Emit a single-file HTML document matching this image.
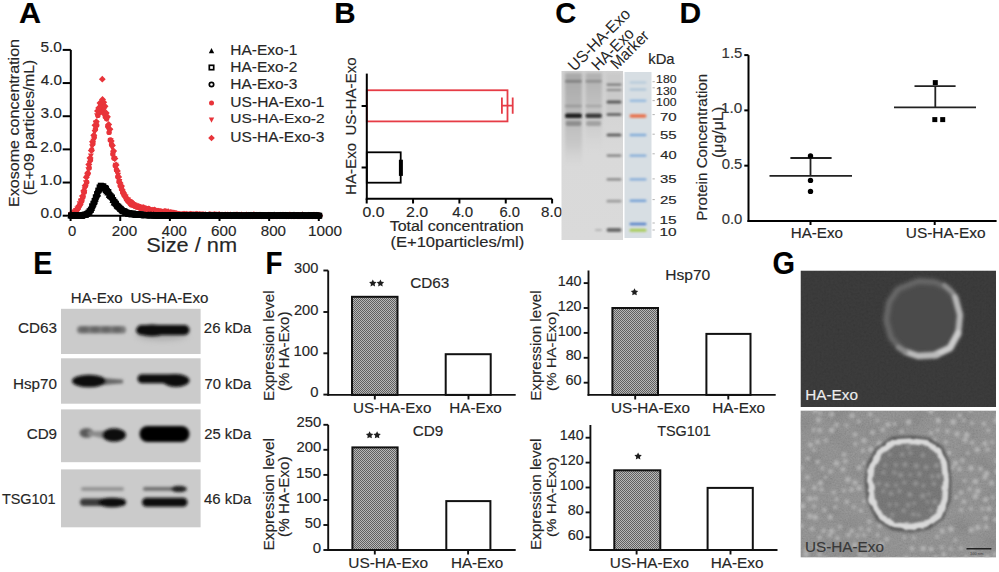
<!DOCTYPE html>
<html><head><meta charset="utf-8"><style>
html,body{margin:0;padding:0;background:#fff;}
body{width:999px;height:572px;overflow:hidden;}
svg{display:block;font-family:"Liberation Sans",sans-serif;}
text{stroke-width:0.15px;}
</style></head><body>
<svg width="999" height="572" viewBox="0 0 999 572">
<defs><filter id="gb" filterUnits="userSpaceOnUse" x="0" y="0" width="999" height="572"><feGaussianBlur stdDeviation="0.8"/></filter><filter id="gb2" filterUnits="userSpaceOnUse" x="0" y="0" width="999" height="572"><feGaussianBlur stdDeviation="1.6"/></filter><linearGradient id="gelbg" x1="0" y1="0" x2="0" y2="1"><stop offset="0" stop-color="#d0d0d0"/><stop offset="0.5" stop-color="#d9d9d9"/><stop offset="1" stop-color="#dadada"/></linearGradient><linearGradient id="lane1" x1="0" y1="0" x2="0" y2="1"><stop offset="0" stop-color="#a8a8a8"/><stop offset="0.3" stop-color="#b4b4b4"/><stop offset="0.5" stop-color="#bcbcbc"/><stop offset="0.75" stop-color="#c8c8c8"/><stop offset="1" stop-color="#d2d2d2" stop-opacity="0"/></linearGradient><linearGradient id="lane2" x1="0" y1="0" x2="0" y2="1"><stop offset="0" stop-color="#b0b0b0"/><stop offset="0.3" stop-color="#bcbcbc"/><stop offset="0.5" stop-color="#c4c4c4"/><stop offset="1" stop-color="#d4d4d4" stop-opacity="0"/></linearGradient><filter id="wb" filterUnits="userSpaceOnUse" x="0" y="0" width="999" height="572"><feGaussianBlur stdDeviation="1.7"/></filter><filter id="wb2" filterUnits="userSpaceOnUse" x="0" y="0" width="999" height="572"><feGaussianBlur stdDeviation="3"/></filter><pattern id="chk" width="2" height="2" patternUnits="userSpaceOnUse"><rect width="2" height="2" fill="#b8b8b8"/><rect width="1" height="1" fill="#606060"/><rect x="1" y="1" width="1" height="1" fill="#606060"/></pattern><filter id="grain" x="0" y="0" width="100%" height="100%"><feTurbulence type="fractalNoise" baseFrequency="0.45" numOctaves="2" seed="11" result="t"/><feColorMatrix in="t" type="matrix" values="0.33 0.33 0.33 0 -0.1  0.33 0.33 0.33 0 -0.1  0.33 0.33 0.33 0 -0.1  0 0 0 0 0.25"/></filter><filter id="grain2" x="0" y="0" width="100%" height="100%"><feTurbulence type="fractalNoise" baseFrequency="0.6" numOctaves="2" seed="4" result="t"/><feColorMatrix in="t" type="matrix" values="0.33 0.33 0.33 0 0  0.33 0.33 0.33 0 0  0.33 0.33 0.33 0 0  0 0 0 0 0.3"/></filter><filter id="tb1" filterUnits="userSpaceOnUse" x="0" y="0" width="999" height="572"><feGaussianBlur stdDeviation="1"/></filter><filter id="tb" filterUnits="userSpaceOnUse" x="0" y="0" width="999" height="572"><feGaussianBlur stdDeviation="1.6"/></filter><filter id="tb2s" filterUnits="userSpaceOnUse" x="0" y="0" width="999" height="572"><feGaussianBlur stdDeviation="2.2"/></filter><filter id="tb2" filterUnits="userSpaceOnUse" x="0" y="0" width="999" height="572"><feGaussianBlur stdDeviation="3"/></filter><filter id="ringf" filterUnits="userSpaceOnUse" x="0" y="0" width="999" height="572"><feTurbulence type="fractalNoise" baseFrequency="0.12" numOctaves="2" seed="8" result="n"/><feDisplacementMap in="SourceGraphic" in2="n" scale="4" xChannelSelector="R" yChannelSelector="G" result="d"/><feGaussianBlur in="d" stdDeviation="1"/></filter><clipPath id="cring"><path d="M878 451L893 440L912 439L928 441L940 449L946 462L948 480L947 500L941 516L928 526L910 529L893 527L879 518L870 500L868 480L870 465Z"/></clipPath><clipPath id="cg1"><rect x="800.5" y="270.5" width="195.5" height="136.5"/></clipPath><clipPath id="cg2"><rect x="800.5" y="410.5" width="195.5" height="147"/></clipPath></defs>
<rect width="999" height="572" fill="#fff"/>
<text transform="translate(18.99,23.45) scale(1.0058,1)" font-size="30.38" font-weight="bold" fill="#000" stroke="#000">A</text>
<text transform="translate(334.18,23.45) scale(0.9716,1)" font-size="30.38" font-weight="bold" fill="#000" stroke="#000">B</text>
<text transform="translate(555.36,23.35) scale(0.9566,1)" font-size="30.38" font-weight="bold" fill="#000" stroke="#000">C</text>
<text transform="translate(679.44,23.05) scale(1.0069,1)" font-size="29.80" font-weight="bold" fill="#000" stroke="#000">D</text>
<text transform="translate(33.32,274.25) scale(0.9197,1)" font-size="31.40" font-weight="bold" fill="#000" stroke="#000">E</text>
<text transform="translate(265.49,274.25) scale(0.8852,1)" font-size="31.40" font-weight="bold" fill="#000" stroke="#000">F</text>
<text transform="translate(772.56,273.95) scale(0.9378,1)" font-size="30.81" font-weight="bold" fill="#000" stroke="#000">G</text>
<g fill="#e8343a">
<circle cx="70.6" cy="214.6" r="2.7"/>
<circle cx="71.8" cy="214.2" r="2.7"/>
<circle cx="73.1" cy="213.7" r="2.7"/>
<circle cx="74.3" cy="212.6" r="2.7"/>
<circle cx="75.6" cy="211.8" r="2.7"/>
<circle cx="76.8" cy="209.9" r="2.7"/>
<circle cx="78.0" cy="208.3" r="2.7"/>
<circle cx="79.3" cy="206.1" r="2.7"/>
<circle cx="80.5" cy="204.0" r="2.7"/>
<circle cx="81.8" cy="201.0" r="2.7"/>
<circle cx="83.0" cy="197.1" r="2.7"/>
<circle cx="84.3" cy="192.2" r="2.7"/>
<circle cx="85.5" cy="185.8" r="2.7"/>
<circle cx="86.7" cy="182.2" r="2.7"/>
<circle cx="88.0" cy="173.5" r="2.7"/>
<circle cx="89.2" cy="168.0" r="2.7"/>
<circle cx="90.5" cy="160.1" r="2.7"/>
<circle cx="91.7" cy="149.9" r="2.7"/>
<circle cx="92.9" cy="143.7" r="2.7"/>
<circle cx="94.2" cy="137.2" r="2.7"/>
<circle cx="95.4" cy="129.2" r="2.7"/>
<circle cx="96.7" cy="125.3" r="2.7"/>
<circle cx="97.9" cy="115.4" r="2.7"/>
<circle cx="99.1" cy="112.2" r="2.7"/>
<circle cx="100.4" cy="112.2" r="2.7"/>
<circle cx="101.6" cy="108.2" r="2.7"/>
<circle cx="102.9" cy="110.4" r="2.7"/>
<circle cx="104.1" cy="113.4" r="2.7"/>
<circle cx="105.3" cy="116.8" r="2.7"/>
<circle cx="106.6" cy="118.7" r="2.7"/>
<circle cx="107.8" cy="126.2" r="2.7"/>
<circle cx="109.1" cy="132.4" r="2.7"/>
<circle cx="110.3" cy="139.9" r="2.7"/>
<circle cx="111.6" cy="144.4" r="2.7"/>
<circle cx="112.8" cy="154.1" r="2.7"/>
<circle cx="114.0" cy="158.2" r="2.7"/>
<circle cx="115.3" cy="165.7" r="2.7"/>
<circle cx="116.5" cy="169.8" r="2.7"/>
<circle cx="117.8" cy="176.7" r="2.7"/>
<circle cx="119.0" cy="181.4" r="2.7"/>
<circle cx="120.2" cy="185.8" r="2.7"/>
<circle cx="121.5" cy="188.9" r="2.7"/>
<circle cx="122.7" cy="192.5" r="2.7"/>
<circle cx="124.0" cy="195.1" r="2.7"/>
<circle cx="125.2" cy="196.6" r="2.7"/>
<circle cx="126.4" cy="199.2" r="2.7"/>
<circle cx="127.7" cy="201.0" r="2.7"/>
<circle cx="128.9" cy="202.1" r="2.7"/>
<circle cx="130.2" cy="203.8" r="2.7"/>
<circle cx="131.4" cy="204.9" r="2.7"/>
<circle cx="132.7" cy="205.0" r="2.7"/>
<circle cx="133.9" cy="205.4" r="2.7"/>
<circle cx="135.1" cy="206.4" r="2.7"/>
<circle cx="136.4" cy="206.5" r="2.7"/>
<circle cx="137.6" cy="207.1" r="2.7"/>
<circle cx="138.9" cy="207.1" r="2.7"/>
<circle cx="140.1" cy="208.3" r="2.7"/>
<circle cx="141.3" cy="208.1" r="2.7"/>
<circle cx="142.6" cy="208.4" r="2.7"/>
<circle cx="143.8" cy="208.4" r="2.7"/>
<circle cx="145.1" cy="209.1" r="2.7"/>
<circle cx="146.3" cy="209.4" r="2.7"/>
<circle cx="147.5" cy="210.1" r="2.7"/>
<circle cx="148.8" cy="210.8" r="2.7"/>
<circle cx="150.0" cy="210.9" r="2.7"/>
<circle cx="151.3" cy="210.7" r="2.7"/>
<circle cx="152.5" cy="210.6" r="2.7"/>
<circle cx="153.7" cy="210.3" r="2.7"/>
<circle cx="155.0" cy="211.1" r="2.7"/>
<circle cx="156.2" cy="211.3" r="2.7"/>
<circle cx="157.5" cy="211.0" r="2.7"/>
<circle cx="158.7" cy="211.6" r="2.7"/>
<circle cx="160.0" cy="212.0" r="2.7"/>
<circle cx="161.2" cy="211.5" r="2.7"/>
<circle cx="162.4" cy="211.7" r="2.7"/>
<circle cx="163.7" cy="212.5" r="2.7"/>
<circle cx="164.9" cy="212.6" r="2.7"/>
<circle cx="166.2" cy="212.7" r="2.7"/>
<circle cx="167.4" cy="213.2" r="2.7"/>
<circle cx="168.6" cy="212.2" r="2.7"/>
<circle cx="169.9" cy="213.3" r="2.7"/>
<circle cx="171.1" cy="212.5" r="2.7"/>
<circle cx="172.4" cy="213.2" r="2.7"/>
<circle cx="173.6" cy="213.9" r="2.7"/>
<circle cx="174.8" cy="213.4" r="2.7"/>
<circle cx="176.1" cy="213.7" r="2.7"/>
<circle cx="177.3" cy="213.8" r="2.7"/>
<circle cx="178.6" cy="215.1" r="2.7"/>
<circle cx="179.8" cy="214.3" r="2.7"/>
<circle cx="181.0" cy="214.6" r="2.7"/>
<circle cx="182.3" cy="214.9" r="2.7"/>
<circle cx="183.5" cy="214.5" r="2.7"/>
<circle cx="184.8" cy="214.8" r="2.7"/>
<circle cx="186.0" cy="214.3" r="2.7"/>
<circle cx="187.3" cy="214.6" r="2.7"/>
<circle cx="188.5" cy="215.2" r="2.7"/>
<circle cx="189.7" cy="214.4" r="2.7"/>
<circle cx="191.0" cy="214.5" r="2.7"/>
<circle cx="192.2" cy="214.4" r="2.7"/>
<circle cx="193.5" cy="214.9" r="2.7"/>
<circle cx="194.7" cy="215.2" r="2.7"/>
<circle cx="195.9" cy="214.6" r="2.7"/>
<circle cx="197.2" cy="214.1" r="2.7"/>
<circle cx="198.4" cy="215.1" r="2.7"/>
<circle cx="199.7" cy="214.5" r="2.7"/>
<circle cx="200.9" cy="214.8" r="2.7"/>
<circle cx="202.1" cy="215.4" r="2.7"/>
<circle cx="203.4" cy="214.8" r="2.7"/>
<circle cx="204.6" cy="215.0" r="2.7"/>
<circle cx="205.9" cy="215.2" r="2.7"/>
<circle cx="207.1" cy="215.0" r="2.7"/>
<circle cx="208.4" cy="215.5" r="2.7"/>
<circle cx="209.6" cy="215.0" r="2.7"/>
<circle cx="210.8" cy="215.4" r="2.7"/>
<circle cx="212.1" cy="215.4" r="2.7"/>
<circle cx="213.3" cy="215.0" r="2.7"/>
<circle cx="214.6" cy="215.0" r="2.7"/>
<circle cx="215.8" cy="214.5" r="2.7"/>
<circle cx="217.0" cy="214.9" r="2.7"/>
<circle cx="218.3" cy="215.2" r="2.7"/>
<circle cx="219.5" cy="215.4" r="2.7"/>
<circle cx="220.8" cy="215.3" r="2.7"/>
<circle cx="222.0" cy="215.4" r="2.7"/>
<circle cx="223.2" cy="215.3" r="2.7"/>
<circle cx="224.5" cy="215.5" r="2.7"/>
<circle cx="225.7" cy="215.7" r="2.7"/>
<circle cx="227.0" cy="214.9" r="2.7"/>
<circle cx="228.2" cy="215.7" r="2.7"/>
<circle cx="229.4" cy="215.0" r="2.7"/>
<circle cx="230.7" cy="215.4" r="2.7"/>
<circle cx="231.9" cy="215.4" r="2.7"/>
<circle cx="233.2" cy="215.2" r="2.7"/>
<circle cx="234.4" cy="215.7" r="2.7"/>
<circle cx="235.7" cy="215.7" r="2.7"/>
<circle cx="236.9" cy="215.7" r="2.7"/>
<circle cx="238.1" cy="215.4" r="2.7"/>
<circle cx="239.4" cy="214.9" r="2.7"/>
<circle cx="240.6" cy="215.6" r="2.7"/>
<circle cx="241.9" cy="215.4" r="2.7"/>
<circle cx="243.1" cy="215.4" r="2.7"/>
<circle cx="244.3" cy="215.5" r="2.7"/>
<circle cx="245.6" cy="215.6" r="2.7"/>
<circle cx="246.8" cy="215.1" r="2.7"/>
<circle cx="248.1" cy="215.5" r="2.7"/>
<circle cx="249.3" cy="215.7" r="2.7"/>
<circle cx="250.5" cy="215.7" r="2.7"/>
<circle cx="251.8" cy="215.2" r="2.7"/>
<circle cx="253.0" cy="215.3" r="2.7"/>
<circle cx="254.3" cy="215.5" r="2.7"/>
<circle cx="255.5" cy="215.6" r="2.7"/>
<circle cx="256.8" cy="215.1" r="2.7"/>
<circle cx="258.0" cy="215.6" r="2.7"/>
<circle cx="259.2" cy="215.7" r="2.7"/>
<circle cx="260.5" cy="215.4" r="2.7"/>
<circle cx="261.7" cy="215.7" r="2.7"/>
<circle cx="263.0" cy="215.6" r="2.7"/>
<circle cx="264.2" cy="215.7" r="2.7"/>
<circle cx="265.4" cy="215.7" r="2.7"/>
<circle cx="266.7" cy="215.7" r="2.7"/>
<circle cx="267.9" cy="215.7" r="2.7"/>
<circle cx="269.2" cy="215.7" r="2.7"/>
<circle cx="270.4" cy="215.1" r="2.7"/>
<circle cx="271.6" cy="215.7" r="2.7"/>
<circle cx="272.9" cy="215.6" r="2.7"/>
<circle cx="274.1" cy="215.5" r="2.7"/>
<circle cx="275.4" cy="215.7" r="2.7"/>
<circle cx="276.6" cy="215.7" r="2.7"/>
<circle cx="277.8" cy="215.7" r="2.7"/>
<circle cx="279.1" cy="215.2" r="2.7"/>
<circle cx="280.3" cy="215.3" r="2.7"/>
<circle cx="281.6" cy="215.6" r="2.7"/>
<circle cx="282.8" cy="215.0" r="2.7"/>
<circle cx="284.1" cy="215.7" r="2.7"/>
<circle cx="285.3" cy="215.6" r="2.7"/>
<circle cx="286.5" cy="215.3" r="2.7"/>
<circle cx="287.8" cy="215.7" r="2.7"/>
<circle cx="289.0" cy="215.6" r="2.7"/>
<circle cx="290.3" cy="215.6" r="2.7"/>
<circle cx="291.5" cy="215.7" r="2.7"/>
<circle cx="292.7" cy="215.6" r="2.7"/>
<circle cx="294.0" cy="215.5" r="2.7"/>
<circle cx="295.2" cy="215.5" r="2.7"/>
<circle cx="296.5" cy="215.7" r="2.7"/>
<circle cx="297.7" cy="215.7" r="2.7"/>
<circle cx="298.9" cy="215.4" r="2.7"/>
<circle cx="300.2" cy="215.7" r="2.7"/>
<circle cx="301.4" cy="215.7" r="2.7"/>
<circle cx="302.7" cy="215.5" r="2.7"/>
<circle cx="303.9" cy="215.6" r="2.7"/>
<circle cx="305.1" cy="215.7" r="2.7"/>
<circle cx="306.4" cy="215.7" r="2.7"/>
<circle cx="307.6" cy="215.6" r="2.7"/>
<circle cx="308.9" cy="215.3" r="2.7"/>
<circle cx="310.1" cy="215.3" r="2.7"/>
<circle cx="311.4" cy="215.5" r="2.7"/>
<circle cx="312.6" cy="215.7" r="2.7"/>
<circle cx="313.8" cy="215.7" r="2.7"/>
<circle cx="315.1" cy="215.4" r="2.7"/>
<circle cx="316.3" cy="215.6" r="2.7"/>
<circle cx="317.6" cy="215.7" r="2.7"/>
<circle cx="318.8" cy="215.6" r="2.7"/>
<path d="M71.0 217.8L74.0 212.1L68.1 212.1Z"/>
<path d="M72.3 217.1L75.2 211.4L69.3 211.4Z"/>
<path d="M73.5 216.8L76.5 211.1L70.5 211.1Z"/>
<path d="M74.7 215.3L77.7 209.6L71.8 209.6Z"/>
<path d="M76.0 213.7L79.0 208.0L73.0 208.0Z"/>
<path d="M77.2 212.0L80.2 206.4L74.3 206.4Z"/>
<path d="M78.5 210.7L81.4 205.1L75.5 205.1Z"/>
<path d="M79.7 206.8L82.7 201.2L76.7 201.2Z"/>
<path d="M80.9 204.2L83.9 198.5L78.0 198.5Z"/>
<path d="M82.2 201.2L85.2 195.6L79.2 195.6Z"/>
<path d="M83.4 197.3L86.4 191.6L80.5 191.6Z"/>
<path d="M84.7 192.9L87.6 187.2L81.7 187.2Z"/>
<path d="M85.9 186.0L88.9 180.3L82.9 180.3Z"/>
<path d="M87.2 180.4L90.1 174.7L84.2 174.7Z"/>
<path d="M88.4 173.0L91.4 167.3L85.4 167.3Z"/>
<path d="M89.6 166.5L92.6 160.8L86.7 160.8Z"/>
<path d="M90.9 159.1L93.8 153.4L87.9 153.4Z"/>
<path d="M92.1 149.9L95.1 144.3L89.1 144.3Z"/>
<path d="M93.4 144.4L96.3 138.7L90.4 138.7Z"/>
<path d="M94.6 135.6L97.6 130.0L91.6 130.0Z"/>
<path d="M95.8 126.2L98.8 120.5L92.9 120.5Z"/>
<path d="M97.1 118.9L100.1 113.2L94.1 113.2Z"/>
<path d="M98.3 115.8L101.3 110.1L95.4 110.1Z"/>
<path d="M99.6 114.2L102.5 108.5L96.6 108.5Z"/>
<path d="M100.8 110.7L103.8 105.0L97.8 105.0Z"/>
<path d="M102.0 109.6L105.0 103.9L99.1 103.9Z"/>
<path d="M103.3 111.5L106.3 105.8L100.3 105.8Z"/>
<path d="M104.5 112.4L107.5 106.8L101.6 106.8Z"/>
<path d="M105.8 118.4L108.7 112.7L102.8 112.7Z"/>
<path d="M107.0 122.2L110.0 116.5L104.0 116.5Z"/>
<path d="M108.3 132.2L111.2 126.5L105.3 126.5Z"/>
<path d="M109.5 133.7L112.5 128.0L106.5 128.0Z"/>
<path d="M110.7 143.8L113.7 138.2L107.8 138.2Z"/>
<path d="M112.0 150.7L114.9 145.0L109.0 145.0Z"/>
<path d="M113.2 157.0L116.2 151.3L110.2 151.3Z"/>
<path d="M114.5 162.0L117.4 156.3L111.5 156.3Z"/>
<path d="M115.7 168.5L118.7 162.8L112.7 162.8Z"/>
<path d="M116.9 176.1L119.9 170.4L114.0 170.4Z"/>
<path d="M118.2 178.5L121.1 172.8L115.2 172.8Z"/>
<path d="M119.4 184.8L122.4 179.1L116.5 179.1Z"/>
<path d="M120.7 189.0L123.6 183.4L117.7 183.4Z"/>
<path d="M121.9 191.4L124.9 185.7L118.9 185.7Z"/>
<path d="M123.1 197.0L126.1 191.3L120.2 191.3Z"/>
<path d="M124.4 199.4L127.4 193.7L121.4 193.7Z"/>
<path d="M125.6 200.2L128.6 194.5L122.7 194.5Z"/>
<path d="M126.9 203.3L129.8 197.7L123.9 197.7Z"/>
<path d="M128.1 203.3L131.1 197.6L125.1 197.6Z"/>
<path d="M129.3 205.0L132.3 199.3L126.4 199.3Z"/>
<path d="M130.6 205.8L133.6 200.1L127.6 200.1Z"/>
<path d="M131.8 207.4L134.8 201.7L128.9 201.7Z"/>
<path d="M133.1 208.5L136.0 202.8L130.1 202.8Z"/>
<path d="M134.3 208.2L137.3 202.5L131.3 202.5Z"/>
<path d="M135.6 209.6L138.5 203.9L132.6 203.9Z"/>
<path d="M136.8 209.9L139.8 204.2L133.8 204.2Z"/>
<path d="M138.0 210.2L141.0 204.5L135.1 204.5Z"/>
<path d="M139.3 211.0L142.2 205.4L136.3 205.4Z"/>
<path d="M140.5 210.9L143.5 205.3L137.5 205.3Z"/>
<path d="M141.8 210.4L144.7 204.8L138.8 204.8Z"/>
<path d="M143.0 211.9L146.0 206.3L140.0 206.3Z"/>
<path d="M144.2 212.2L147.2 206.5L141.3 206.5Z"/>
<path d="M145.5 212.3L148.5 206.6L142.5 206.6Z"/>
<path d="M146.7 212.3L149.7 206.6L143.8 206.6Z"/>
<path d="M148.0 212.7L150.9 207.0L145.0 207.0Z"/>
<path d="M149.2 213.4L152.2 207.7L146.2 207.7Z"/>
<path d="M150.4 213.4L153.4 207.7L147.5 207.7Z"/>
<path d="M151.7 213.4L154.7 207.8L148.7 207.8Z"/>
<path d="M152.9 214.3L155.9 208.7L150.0 208.7Z"/>
<path d="M154.2 214.5L157.1 208.9L151.2 208.9Z"/>
<path d="M155.4 214.3L158.4 208.7L152.4 208.7Z"/>
<path d="M156.7 214.4L159.6 208.7L153.7 208.7Z"/>
<path d="M157.9 214.7L160.9 209.0L154.9 209.0Z"/>
<path d="M159.1 214.9L162.1 209.3L156.2 209.3Z"/>
<path d="M160.4 215.1L163.3 209.4L157.4 209.4Z"/>
<path d="M161.6 215.1L164.6 209.4L158.6 209.4Z"/>
<path d="M162.9 215.2L165.8 209.5L159.9 209.5Z"/>
<path d="M164.1 215.5L167.1 209.8L161.1 209.8Z"/>
<path d="M165.3 215.4L168.3 209.7L162.4 209.7Z"/>
<path d="M166.6 215.6L169.5 209.9L163.6 209.9Z"/>
<path d="M167.8 215.8L170.8 210.1L164.8 210.1Z"/>
<path d="M169.1 216.2L172.0 210.6L166.1 210.6Z"/>
<path d="M170.3 215.9L173.3 210.2L167.3 210.2Z"/>
<path d="M171.5 216.2L174.5 210.5L168.6 210.5Z"/>
<path d="M172.8 216.2L175.8 210.5L169.8 210.5Z"/>
<path d="M174.0 216.1L177.0 210.4L171.1 210.4Z"/>
<path d="M175.3 217.1L178.2 211.5L172.3 211.5Z"/>
<path d="M176.5 216.7L179.5 211.1L173.5 211.1Z"/>
<path d="M177.7 217.8L180.7 212.1L174.8 212.1Z"/>
<path d="M179.0 218.4L182.0 212.7L176.0 212.7Z"/>
<path d="M180.2 217.5L183.2 211.8L177.3 211.8Z"/>
<path d="M181.5 217.9L184.4 212.2L178.5 212.2Z"/>
<path d="M182.7 217.4L185.7 211.7L179.7 211.7Z"/>
<path d="M184.0 218.0L186.9 212.4L181.0 212.4Z"/>
<path d="M185.2 218.2L188.2 212.5L182.2 212.5Z"/>
<path d="M186.4 217.8L189.4 212.1L183.5 212.1Z"/>
<path d="M187.7 217.6L190.6 211.9L184.7 211.9Z"/>
<path d="M188.9 218.0L191.9 212.3L185.9 212.3Z"/>
<path d="M190.2 217.7L193.1 212.1L187.2 212.1Z"/>
<path d="M191.4 217.8L194.4 212.1L188.4 212.1Z"/>
<path d="M192.6 217.8L195.6 212.1L189.7 212.1Z"/>
<path d="M193.9 218.5L196.9 212.8L190.9 212.8Z"/>
<path d="M195.1 218.0L198.1 212.3L192.2 212.3Z"/>
<path d="M196.4 218.5L199.3 212.9L193.4 212.9Z"/>
<path d="M197.6 218.2L200.6 212.5L194.6 212.5Z"/>
<path d="M198.8 218.7L201.8 213.1L195.9 213.1Z"/>
<path d="M200.1 217.6L203.1 212.0L197.1 212.0Z"/>
<path d="M201.3 218.2L204.3 212.5L198.4 212.5Z"/>
<path d="M202.6 217.8L205.5 212.1L199.6 212.1Z"/>
<path d="M203.8 218.1L206.8 212.4L200.8 212.4Z"/>
<path d="M205.0 217.9L208.0 212.2L202.1 212.2Z"/>
<path d="M206.3 217.8L209.3 212.1L203.3 212.1Z"/>
<path d="M207.5 218.1L210.5 212.4L204.6 212.4Z"/>
<path d="M208.8 218.4L211.7 212.7L205.8 212.7Z"/>
<path d="M210.0 217.9L213.0 212.3L207.0 212.3Z"/>
<path d="M211.3 218.3L214.2 212.7L208.3 212.7Z"/>
<path d="M212.5 218.2L215.5 212.6L209.5 212.6Z"/>
<path d="M213.7 218.3L216.7 212.7L210.8 212.7Z"/>
<path d="M215.0 218.7L217.9 213.0L212.0 213.0Z"/>
<path d="M216.2 218.4L219.2 212.8L213.2 212.8Z"/>
<path d="M217.5 218.0L220.4 212.4L214.5 212.4Z"/>
<path d="M218.7 218.7L221.7 213.1L215.7 213.1Z"/>
<path d="M219.9 218.7L222.9 213.0L217.0 213.0Z"/>
<path d="M221.2 218.1L224.2 212.4L218.2 212.4Z"/>
<path d="M222.4 218.3L225.4 212.7L219.5 212.7Z"/>
<path d="M223.7 218.2L226.6 212.5L220.7 212.5Z"/>
<path d="M224.9 218.2L227.9 212.5L221.9 212.5Z"/>
<path d="M226.1 218.8L229.1 213.2L223.2 213.2Z"/>
<path d="M227.4 218.8L230.4 213.1L224.4 213.1Z"/>
<path d="M228.6 218.5L231.6 212.8L225.7 212.8Z"/>
<path d="M229.9 218.6L232.8 212.9L226.9 212.9Z"/>
<path d="M231.1 218.3L234.1 212.6L228.1 212.6Z"/>
<path d="M232.4 218.8L235.3 213.1L229.4 213.1Z"/>
<path d="M233.6 217.9L236.6 212.2L230.6 212.2Z"/>
<path d="M234.8 218.6L237.8 213.0L231.9 213.0Z"/>
<path d="M236.1 218.1L239.0 212.5L233.1 212.5Z"/>
<path d="M237.3 218.9L240.3 213.3L234.3 213.3Z"/>
<path d="M238.6 218.5L241.5 212.9L235.6 212.9Z"/>
<path d="M239.8 218.9L242.8 213.3L236.8 213.3Z"/>
<path d="M241.0 218.5L244.0 212.8L238.1 212.8Z"/>
<path d="M242.3 218.8L245.2 213.1L239.3 213.1Z"/>
<path d="M243.5 218.5L246.5 212.8L240.6 212.8Z"/>
<path d="M244.8 218.6L247.7 212.9L241.8 212.9Z"/>
<path d="M246.0 218.9L249.0 213.2L243.0 213.2Z"/>
<path d="M247.2 218.4L250.2 212.7L244.3 212.7Z"/>
<path d="M248.5 218.9L251.5 213.3L245.5 213.3Z"/>
<path d="M249.7 218.8L252.7 213.2L246.8 213.2Z"/>
<path d="M251.0 218.9L253.9 213.3L248.0 213.3Z"/>
<path d="M252.2 218.9L255.2 213.2L249.2 213.2Z"/>
<path d="M253.4 218.5L256.4 212.8L250.5 212.8Z"/>
<path d="M254.7 218.6L257.7 212.9L251.7 212.9Z"/>
<path d="M255.9 218.9L258.9 213.2L253.0 213.2Z"/>
<path d="M257.2 218.4L260.1 212.7L254.2 212.7Z"/>
<path d="M258.4 218.6L261.4 212.9L255.4 212.9Z"/>
<path d="M259.7 218.2L262.6 212.5L256.7 212.5Z"/>
<path d="M260.9 218.6L263.9 213.0L257.9 213.0Z"/>
<path d="M262.1 218.9L265.1 213.3L259.2 213.3Z"/>
<path d="M263.4 218.9L266.3 213.2L260.4 213.2Z"/>
<path d="M264.6 218.6L267.6 212.9L261.6 212.9Z"/>
<path d="M265.9 218.9L268.8 213.3L262.9 213.3Z"/>
<path d="M267.1 218.9L270.1 213.3L264.1 213.3Z"/>
<path d="M268.3 218.9L271.3 213.3L265.4 213.3Z"/>
<path d="M269.6 218.9L272.6 213.3L266.6 213.3Z"/>
<path d="M270.8 218.8L273.8 213.1L267.9 213.1Z"/>
<path d="M272.1 218.2L275.0 212.5L269.1 212.5Z"/>
<path d="M273.3 218.9L276.3 213.3L270.3 213.3Z"/>
<path d="M274.5 218.9L277.5 213.3L271.6 213.3Z"/>
<path d="M275.8 218.8L278.8 213.2L272.8 213.2Z"/>
<path d="M277.0 218.8L280.0 213.1L274.1 213.1Z"/>
<path d="M278.3 218.8L281.2 213.1L275.3 213.1Z"/>
<path d="M279.5 218.9L282.5 213.3L276.5 213.3Z"/>
<path d="M280.8 218.9L283.7 213.3L277.8 213.3Z"/>
<path d="M282.0 218.9L285.0 213.3L279.0 213.3Z"/>
<path d="M283.2 218.3L286.2 212.6L280.3 212.6Z"/>
<path d="M284.5 218.4L287.4 212.8L281.5 212.8Z"/>
<path d="M285.7 218.9L288.7 213.3L282.7 213.3Z"/>
<path d="M287.0 218.9L289.9 213.2L284.0 213.2Z"/>
<path d="M288.2 218.9L291.2 213.3L285.2 213.3Z"/>
<path d="M289.4 218.9L292.4 213.3L286.5 213.3Z"/>
<path d="M290.7 218.9L293.6 213.3L287.7 213.3Z"/>
<path d="M291.9 218.1L294.9 212.5L288.9 212.5Z"/>
<path d="M293.2 218.9L296.1 213.3L290.2 213.3Z"/>
<path d="M294.4 218.7L297.4 213.0L291.4 213.0Z"/>
<path d="M295.6 218.9L298.6 213.3L292.7 213.3Z"/>
<path d="M296.9 218.8L299.9 213.1L293.9 213.1Z"/>
<path d="M298.1 218.4L301.1 212.7L295.2 212.7Z"/>
<path d="M299.4 218.9L302.3 213.2L296.4 213.2Z"/>
<path d="M300.6 218.4L303.6 212.7L297.6 212.7Z"/>
<path d="M301.8 218.9L304.8 213.3L298.9 213.3Z"/>
<path d="M303.1 218.7L306.1 213.0L300.1 213.0Z"/>
<path d="M304.3 218.5L307.3 212.8L301.4 212.8Z"/>
<path d="M305.6 218.7L308.5 213.0L302.6 213.0Z"/>
<path d="M306.8 218.9L309.8 213.3L303.8 213.3Z"/>
<path d="M308.1 218.9L311.0 213.3L305.1 213.3Z"/>
<path d="M309.3 218.9L312.3 213.3L306.3 213.3Z"/>
<path d="M310.5 218.9L313.5 213.3L307.6 213.3Z"/>
<path d="M311.8 218.8L314.7 213.1L308.8 213.1Z"/>
<path d="M313.0 218.9L316.0 213.3L310.0 213.3Z"/>
<path d="M314.3 218.9L317.2 213.3L311.3 213.3Z"/>
<path d="M315.5 218.9L318.5 213.3L312.5 213.3Z"/>
<path d="M316.7 218.9L319.7 213.3L313.8 213.3Z"/>
<path d="M318.0 218.7L321.0 213.0L315.0 213.0Z"/>
<path d="M319.2 218.8L322.2 213.1L316.3 213.1Z"/>
<path d="M71.4 210.5L75.0 214.0L71.4 217.5L67.9 214.0Z"/>
<path d="M72.7 209.6L76.2 213.1L72.7 216.6L69.2 213.1Z"/>
<path d="M73.9 209.1L77.4 212.6L73.9 216.1L70.4 212.6Z"/>
<path d="M75.2 208.7L78.7 212.3L75.2 215.8L71.7 212.3Z"/>
<path d="M76.4 206.9L79.9 210.4L76.4 213.9L72.9 210.4Z"/>
<path d="M77.6 205.6L81.2 209.1L77.6 212.6L74.1 209.1Z"/>
<path d="M78.9 202.6L82.4 206.2L78.9 209.7L75.4 206.2Z"/>
<path d="M80.1 200.8L83.6 204.3L80.1 207.8L76.6 204.3Z"/>
<path d="M81.4 196.5L84.9 200.1L81.4 203.6L77.9 200.1Z"/>
<path d="M82.6 192.4L86.1 195.9L82.6 199.4L79.1 195.9Z"/>
<path d="M83.9 187.3L87.4 190.8L83.9 194.3L80.3 190.8Z"/>
<path d="M85.1 182.2L88.6 185.7L85.1 189.3L81.6 185.7Z"/>
<path d="M86.3 173.8L89.8 177.3L86.3 180.8L82.8 177.3Z"/>
<path d="M87.6 169.6L91.1 173.2L87.6 176.7L84.1 173.2Z"/>
<path d="M88.8 160.9L92.3 164.4L88.8 167.9L85.3 164.4Z"/>
<path d="M90.1 154.5L93.6 158.0L90.1 161.5L86.5 158.0Z"/>
<path d="M91.3 147.1L94.8 150.6L91.3 154.1L87.8 150.6Z"/>
<path d="M92.5 138.3L96.1 141.8L92.5 145.3L89.0 141.8Z"/>
<path d="M93.8 131.8L97.3 135.3L93.8 138.9L90.3 135.3Z"/>
<path d="M95.0 121.7L98.5 125.2L95.0 128.7L91.5 125.2Z"/>
<path d="M96.3 118.2L99.8 121.7L96.3 125.2L92.8 121.7Z"/>
<path d="M97.5 107.5L101.0 111.0L97.5 114.5L94.0 111.0Z"/>
<path d="M98.7 104.4L102.3 107.9L98.7 111.4L95.2 107.9Z"/>
<path d="M100.0 99.5L103.5 103.0L100.0 106.5L96.5 103.0Z"/>
<path d="M101.2 101.2L104.7 104.7L101.2 108.2L97.7 104.7Z"/>
<path d="M102.5 95.9L106.0 99.4L102.5 102.9L99.0 99.4Z"/>
<path d="M103.7 98.8L107.2 102.3L103.7 105.8L100.2 102.3Z"/>
<path d="M105.0 102.8L108.5 106.3L105.0 109.8L101.4 106.3Z"/>
<path d="M106.2 109.5L109.7 113.0L106.2 116.5L102.7 113.0Z"/>
<path d="M107.4 113.3L110.9 116.8L107.4 120.4L103.9 116.8Z"/>
<path d="M108.7 121.1L112.2 124.6L108.7 128.1L105.2 124.6Z"/>
<path d="M109.9 125.8L113.4 129.3L109.9 132.8L106.4 129.3Z"/>
<path d="M111.2 137.4L114.7 140.9L111.2 144.4L107.6 140.9Z"/>
<path d="M112.4 142.0L115.9 145.5L112.4 149.0L108.9 145.5Z"/>
<path d="M113.6 147.4L117.1 150.9L113.6 154.4L110.1 150.9Z"/>
<path d="M114.9 155.0L118.4 158.5L114.9 162.0L111.4 158.5Z"/>
<path d="M116.1 161.4L119.6 164.9L116.1 168.4L112.6 164.9Z"/>
<path d="M117.4 167.5L120.9 171.0L117.4 174.5L113.9 171.0Z"/>
<path d="M118.6 173.5L122.1 177.0L118.6 180.5L115.1 177.0Z"/>
<path d="M119.8 179.2L123.4 182.7L119.8 186.2L116.3 182.7Z"/>
<path d="M121.1 182.2L124.6 185.7L121.1 189.2L117.6 185.7Z"/>
<path d="M122.3 186.5L125.8 190.0L122.3 193.5L118.8 190.0Z"/>
<path d="M123.6 189.4L127.1 192.9L123.6 196.4L120.1 192.9Z"/>
<path d="M124.8 191.9L128.3 195.4L124.8 198.9L121.3 195.4Z"/>
<path d="M126.0 193.9L129.6 197.4L126.0 201.0L122.5 197.4Z"/>
<path d="M127.3 196.3L130.8 199.8L127.3 203.3L123.8 199.8Z"/>
<path d="M128.5 196.8L132.0 200.3L128.5 203.8L125.0 200.3Z"/>
<path d="M129.8 198.3L133.3 201.8L129.8 205.3L126.3 201.8Z"/>
<path d="M131.0 198.8L134.5 202.3L131.0 205.8L127.5 202.3Z"/>
<path d="M132.3 199.2L135.8 202.8L132.3 206.3L128.7 202.8Z"/>
<path d="M133.5 200.6L137.0 204.2L133.5 207.7L130.0 204.2Z"/>
<path d="M134.7 201.6L138.2 205.1L134.7 208.6L131.2 205.1Z"/>
<path d="M136.0 202.9L139.5 206.4L136.0 209.9L132.5 206.4Z"/>
<path d="M137.2 202.7L140.7 206.2L137.2 209.8L133.7 206.2Z"/>
<path d="M138.5 203.1L142.0 206.6L138.5 210.1L134.9 206.6Z"/>
<path d="M139.7 203.5L143.2 207.0L139.7 210.5L136.2 207.0Z"/>
<path d="M140.9 204.0L144.4 207.5L140.9 211.0L137.4 207.5Z"/>
<path d="M142.2 204.6L145.7 208.1L142.2 211.6L138.7 208.1Z"/>
<path d="M143.4 204.3L146.9 207.8L143.4 211.3L139.9 207.8Z"/>
<path d="M144.7 204.9L148.2 208.4L144.7 212.0L141.2 208.4Z"/>
<path d="M145.9 204.9L149.4 208.4L145.9 211.9L142.4 208.4Z"/>
<path d="M147.1 205.9L150.7 209.4L147.1 212.9L143.6 209.4Z"/>
<path d="M148.4 205.4L151.9 208.9L148.4 212.4L144.9 208.9Z"/>
<path d="M149.6 205.7L153.1 209.2L149.6 212.7L146.1 209.2Z"/>
<path d="M150.9 206.9L154.4 210.4L150.9 213.9L147.4 210.4Z"/>
<path d="M152.1 206.7L155.6 210.2L152.1 213.7L148.6 210.2Z"/>
<path d="M153.3 207.0L156.9 210.6L153.3 214.1L149.8 210.6Z"/>
<path d="M154.6 206.6L158.1 210.1L154.6 213.7L151.1 210.1Z"/>
<path d="M155.8 207.2L159.3 210.7L155.8 214.2L152.3 210.7Z"/>
<path d="M157.1 207.8L160.6 211.3L157.1 214.8L153.6 211.3Z"/>
<path d="M158.3 207.8L161.8 211.3L158.3 214.8L154.8 211.3Z"/>
<path d="M159.6 208.1L163.1 211.6L159.6 215.1L156.0 211.6Z"/>
<path d="M160.8 208.1L164.3 211.6L160.8 215.1L157.3 211.6Z"/>
<path d="M162.0 208.5L165.5 212.0L162.0 215.5L158.5 212.0Z"/>
<path d="M163.3 208.4L166.8 211.9L163.3 215.4L159.8 211.9Z"/>
<path d="M164.5 208.1L168.0 211.7L164.5 215.2L161.0 211.7Z"/>
<path d="M165.8 207.9L169.3 211.4L165.8 214.9L162.2 211.4Z"/>
<path d="M167.0 208.6L170.5 212.1L167.0 215.6L163.5 212.1Z"/>
<path d="M168.2 208.3L171.8 211.9L168.2 215.4L164.7 211.9Z"/>
<path d="M169.5 209.9L173.0 213.4L169.5 216.9L166.0 213.4Z"/>
<path d="M170.7 209.1L174.2 212.6L170.7 216.1L167.2 212.6Z"/>
<path d="M172.0 209.2L175.5 212.7L172.0 216.2L168.5 212.7Z"/>
<path d="M173.2 209.4L176.7 212.9L173.2 216.4L169.7 212.9Z"/>
<path d="M174.4 209.7L178.0 213.2L174.4 216.7L170.9 213.2Z"/>
<path d="M175.7 210.6L179.2 214.1L175.7 217.6L172.2 214.1Z"/>
<path d="M176.9 210.3L180.4 213.8L176.9 217.3L173.4 213.8Z"/>
<path d="M178.2 211.2L181.7 214.7L178.2 218.3L174.7 214.7Z"/>
<path d="M179.4 211.0L182.9 214.5L179.4 218.0L175.9 214.5Z"/>
<path d="M180.7 211.5L184.2 215.0L180.7 218.5L177.1 215.0Z"/>
<path d="M181.9 211.2L185.4 214.7L181.9 218.2L178.4 214.7Z"/>
<path d="M183.1 210.8L186.6 214.3L183.1 217.8L179.6 214.3Z"/>
<path d="M184.4 210.8L187.9 214.3L184.4 217.8L180.9 214.3Z"/>
<path d="M185.6 211.2L189.1 214.7L185.6 218.2L182.1 214.7Z"/>
<path d="M186.9 210.8L190.4 214.3L186.9 217.8L183.3 214.3Z"/>
<path d="M188.1 211.2L191.6 214.8L188.1 218.3L184.6 214.8Z"/>
<path d="M189.3 211.1L192.8 214.6L189.3 218.1L185.8 214.6Z"/>
<path d="M190.6 210.8L194.1 214.3L190.6 217.8L187.1 214.3Z"/>
<path d="M191.8 211.0L195.3 214.5L191.8 218.0L188.3 214.5Z"/>
<path d="M193.1 211.0L196.6 214.5L193.1 218.1L189.6 214.5Z"/>
<path d="M194.3 211.3L197.8 214.8L194.3 218.3L190.8 214.8Z"/>
<path d="M195.5 211.0L199.1 214.5L195.5 218.0L192.0 214.5Z"/>
<path d="M196.8 210.8L200.3 214.3L196.8 217.8L193.3 214.3Z"/>
<path d="M198.0 211.3L201.5 214.8L198.0 218.3L194.5 214.8Z"/>
<path d="M199.3 211.1L202.8 214.6L199.3 218.2L195.8 214.6Z"/>
<path d="M200.5 211.3L204.0 214.8L200.5 218.3L197.0 214.8Z"/>
<path d="M201.7 211.3L205.3 214.8L201.7 218.3L198.2 214.8Z"/>
<path d="M203.0 211.1L206.5 214.6L203.0 218.2L199.5 214.6Z"/>
<path d="M204.2 211.5L207.7 215.1L204.2 218.6L200.7 215.1Z"/>
<path d="M205.5 211.2L209.0 214.8L205.5 218.3L202.0 214.8Z"/>
<path d="M206.7 212.0L210.2 215.5L206.7 219.0L203.2 215.5Z"/>
<path d="M208.0 212.1L211.5 215.6L208.0 219.1L204.4 215.6Z"/>
<path d="M209.2 210.9L212.7 214.4L209.2 217.9L205.7 214.4Z"/>
<path d="M210.4 211.3L213.9 214.8L210.4 218.3L206.9 214.8Z"/>
<path d="M211.7 211.4L215.2 214.9L211.7 218.4L208.2 214.9Z"/>
<path d="M212.9 211.6L216.4 215.1L212.9 218.6L209.4 215.1Z"/>
<path d="M214.2 211.0L217.7 214.5L214.2 218.0L210.6 214.5Z"/>
<path d="M215.4 211.5L218.9 215.1L215.4 218.6L211.9 215.1Z"/>
<path d="M216.6 211.4L220.2 214.9L216.6 218.4L213.1 214.9Z"/>
<path d="M217.9 211.4L221.4 214.9L217.9 218.4L214.4 214.9Z"/>
<path d="M219.1 211.1L222.6 214.6L219.1 218.1L215.6 214.6Z"/>
<path d="M220.4 211.8L223.9 215.3L220.4 218.8L216.9 215.3Z"/>
<path d="M221.6 211.8L225.1 215.3L221.6 218.8L218.1 215.3Z"/>
<path d="M222.8 211.8L226.4 215.3L222.8 218.8L219.3 215.3Z"/>
<path d="M224.1 211.7L227.6 215.2L224.1 218.7L220.6 215.2Z"/>
<path d="M225.3 211.4L228.8 214.9L225.3 218.4L221.8 214.9Z"/>
<path d="M226.6 212.1L230.1 215.6L226.6 219.1L223.1 215.6Z"/>
<path d="M227.8 211.5L231.3 215.0L227.8 218.5L224.3 215.0Z"/>
<path d="M229.1 212.0L232.6 215.6L229.1 219.1L225.5 215.6Z"/>
<path d="M230.3 211.5L233.8 215.1L230.3 218.6L226.8 215.1Z"/>
<path d="M231.5 212.2L235.0 215.7L231.5 219.2L228.0 215.7Z"/>
<path d="M232.8 212.1L236.3 215.6L232.8 219.1L229.3 215.6Z"/>
<path d="M234.0 211.6L237.5 215.1L234.0 218.6L230.5 215.1Z"/>
<path d="M235.3 211.7L238.8 215.2L235.3 218.7L231.7 215.2Z"/>
<path d="M236.5 211.5L240.0 215.0L236.5 218.5L233.0 215.0Z"/>
<path d="M237.7 211.6L241.2 215.1L237.7 218.6L234.2 215.1Z"/>
<path d="M239.0 212.2L242.5 215.7L239.0 219.2L235.5 215.7Z"/>
<path d="M240.2 212.0L243.7 215.5L240.2 219.0L236.7 215.5Z"/>
<path d="M241.5 211.5L245.0 215.0L241.5 218.5L238.0 215.0Z"/>
<path d="M242.7 212.2L246.2 215.7L242.7 219.2L239.2 215.7Z"/>
<path d="M243.9 212.0L247.5 215.6L243.9 219.1L240.4 215.6Z"/>
<path d="M245.2 211.9L248.7 215.4L245.2 218.9L241.7 215.4Z"/>
<path d="M246.4 211.6L249.9 215.1L246.4 218.6L242.9 215.1Z"/>
<path d="M247.7 212.0L251.2 215.5L247.7 219.0L244.2 215.5Z"/>
<path d="M248.9 212.0L252.4 215.5L248.9 219.0L245.4 215.5Z"/>
<path d="M250.1 212.2L253.7 215.7L250.1 219.2L246.6 215.7Z"/>
<path d="M251.4 211.8L254.9 215.3L251.4 218.8L247.9 215.3Z"/>
<path d="M252.6 212.2L256.1 215.7L252.6 219.2L249.1 215.7Z"/>
<path d="M253.9 211.3L257.4 214.8L253.9 218.3L250.4 214.8Z"/>
<path d="M255.1 211.9L258.6 215.4L255.1 219.0L251.6 215.4Z"/>
<path d="M256.4 211.8L259.9 215.3L256.4 218.8L252.8 215.3Z"/>
<path d="M257.6 212.1L261.1 215.6L257.6 219.1L254.1 215.6Z"/>
<path d="M258.8 212.1L262.3 215.6L258.8 219.1L255.3 215.6Z"/>
<path d="M260.1 211.8L263.6 215.3L260.1 218.8L256.6 215.3Z"/>
<path d="M261.3 212.2L264.8 215.7L261.3 219.2L257.8 215.7Z"/>
<path d="M262.6 212.1L266.1 215.6L262.6 219.1L259.0 215.6Z"/>
<path d="M263.8 212.1L267.3 215.6L263.8 219.2L260.3 215.6Z"/>
<path d="M265.0 212.0L268.5 215.5L265.0 219.0L261.5 215.5Z"/>
<path d="M266.3 212.0L269.8 215.5L266.3 219.0L262.8 215.5Z"/>
<path d="M267.5 212.1L271.0 215.6L267.5 219.2L264.0 215.6Z"/>
<path d="M268.8 211.8L272.3 215.4L268.8 218.9L265.3 215.4Z"/>
<path d="M270.0 211.7L273.5 215.2L270.0 218.7L266.5 215.2Z"/>
<path d="M271.2 212.2L274.8 215.7L271.2 219.2L267.7 215.7Z"/>
<path d="M272.5 212.2L276.0 215.7L272.5 219.2L269.0 215.7Z"/>
<path d="M273.7 212.2L277.2 215.7L273.7 219.2L270.2 215.7Z"/>
<path d="M275.0 212.2L278.5 215.7L275.0 219.2L271.5 215.7Z"/>
<path d="M276.2 212.2L279.7 215.7L276.2 219.2L272.7 215.7Z"/>
<path d="M277.4 212.1L281.0 215.6L277.4 219.2L273.9 215.6Z"/>
<path d="M278.7 211.9L282.2 215.4L278.7 218.9L275.2 215.4Z"/>
<path d="M279.9 212.2L283.4 215.7L279.9 219.2L276.4 215.7Z"/>
<path d="M281.2 212.0L284.7 215.5L281.2 219.0L277.7 215.5Z"/>
<path d="M282.4 211.8L285.9 215.3L282.4 218.8L278.9 215.3Z"/>
<path d="M283.7 211.7L287.2 215.2L283.7 218.7L280.1 215.2Z"/>
<path d="M284.9 212.0L288.4 215.5L284.9 219.0L281.4 215.5Z"/>
<path d="M286.1 212.2L289.6 215.7L286.1 219.2L282.6 215.7Z"/>
<path d="M287.4 212.1L290.9 215.6L287.4 219.1L283.9 215.6Z"/>
<path d="M288.6 212.2L292.1 215.7L288.6 219.2L285.1 215.7Z"/>
<path d="M289.9 211.4L293.4 214.9L289.9 218.4L286.3 214.9Z"/>
<path d="M291.1 212.2L294.6 215.7L291.1 219.2L287.6 215.7Z"/>
<path d="M292.3 212.0L295.9 215.5L292.3 219.0L288.8 215.5Z"/>
<path d="M293.6 212.2L297.1 215.7L293.6 219.2L290.1 215.7Z"/>
<path d="M294.8 212.2L298.3 215.7L294.8 219.2L291.3 215.7Z"/>
<path d="M296.1 212.0L299.6 215.5L296.1 219.0L292.6 215.5Z"/>
<path d="M297.3 212.2L300.8 215.7L297.3 219.2L293.8 215.7Z"/>
<path d="M298.5 212.1L302.1 215.7L298.5 219.2L295.0 215.7Z"/>
<path d="M299.8 212.2L303.3 215.7L299.8 219.2L296.3 215.7Z"/>
<path d="M301.0 212.2L304.5 215.7L301.0 219.2L297.5 215.7Z"/>
<path d="M302.3 211.6L305.8 215.1L302.3 218.6L298.8 215.1Z"/>
<path d="M303.5 212.2L307.0 215.7L303.5 219.2L300.0 215.7Z"/>
<path d="M304.8 212.2L308.3 215.7L304.8 219.2L301.2 215.7Z"/>
<path d="M306.0 212.2L309.5 215.7L306.0 219.2L302.5 215.7Z"/>
<path d="M307.2 212.2L310.7 215.7L307.2 219.2L303.7 215.7Z"/>
<path d="M308.5 212.2L312.0 215.7L308.5 219.2L305.0 215.7Z"/>
<path d="M309.7 212.2L313.2 215.7L309.7 219.2L306.2 215.7Z"/>
<path d="M311.0 212.0L314.5 215.5L311.0 219.0L307.4 215.5Z"/>
<path d="M312.2 212.2L315.7 215.7L312.2 219.2L308.7 215.7Z"/>
<path d="M313.4 211.8L316.9 215.3L313.4 218.8L309.9 215.3Z"/>
<path d="M314.7 211.7L318.2 215.2L314.7 218.7L311.2 215.2Z"/>
<path d="M315.9 212.2L319.4 215.7L315.9 219.2L312.4 215.7Z"/>
<path d="M317.2 212.2L320.7 215.7L317.2 219.2L313.7 215.7Z"/>
<path d="M318.4 212.2L321.9 215.7L318.4 219.2L314.9 215.7Z"/>
<path d="M319.6 212.2L323.2 215.7L319.6 219.2L316.1 215.7Z"/>
<path d="M102.3 75.8L105.7 79.2L102.3 82.6L98.9 79.2Z"/>
</g>
<g fill="#000">
<path d="M70.6 212.0L73.9 218.3L67.3 218.3Z"/>
<path d="M71.8 212.1L75.1 218.4L68.5 218.4Z"/>
<path d="M73.1 212.1L76.4 218.4L69.8 218.4Z"/>
<path d="M74.3 211.7L77.6 218.0L71.0 218.0Z"/>
<path d="M75.6 212.1L78.9 218.4L72.3 218.4Z"/>
<path d="M76.8 212.0L80.1 218.3L73.5 218.3Z"/>
<path d="M78.0 212.1L81.3 218.4L74.7 218.4Z"/>
<path d="M79.3 211.9L82.6 218.2L76.0 218.2Z"/>
<path d="M80.5 212.1L83.8 218.4L77.2 218.4Z"/>
<path d="M81.8 212.1L85.1 218.4L78.5 218.4Z"/>
<path d="M83.0 211.8L86.3 218.1L79.7 218.1Z"/>
<path d="M84.3 211.4L87.6 217.7L81.0 217.7Z"/>
<path d="M85.5 211.1L88.8 217.4L82.2 217.4Z"/>
<path d="M86.7 210.6L90.0 216.9L83.4 216.9Z"/>
<path d="M88.0 209.5L91.3 215.8L84.7 215.8Z"/>
<path d="M89.2 208.4L92.5 214.7L85.9 214.7Z"/>
<path d="M90.5 206.8L93.8 213.1L87.2 213.1Z"/>
<path d="M91.7 204.7L95.0 211.0L88.4 211.0Z"/>
<path d="M92.9 201.3L96.2 207.6L89.6 207.6Z"/>
<path d="M94.2 198.7L97.5 205.0L90.9 205.0Z"/>
<path d="M95.4 195.4L98.7 201.7L92.1 201.7Z"/>
<path d="M96.7 192.0L100.0 198.3L93.4 198.3Z"/>
<path d="M97.9 190.1L101.2 196.4L94.6 196.4Z"/>
<path d="M99.1 186.3L102.4 192.6L95.8 192.6Z"/>
<path d="M100.4 182.9L103.7 189.2L97.1 189.2Z"/>
<path d="M101.6 184.6L104.9 190.9L98.3 190.9Z"/>
<path d="M102.9 183.4L106.2 189.7L99.6 189.7Z"/>
<path d="M104.1 184.2L107.4 190.5L100.8 190.5Z"/>
<path d="M105.3 185.4L108.6 191.7L102.0 191.7Z"/>
<path d="M106.6 187.9L109.9 194.2L103.3 194.2Z"/>
<path d="M107.8 189.3L111.1 195.6L104.5 195.6Z"/>
<path d="M109.1 191.5L112.4 197.8L105.8 197.8Z"/>
<path d="M110.3 192.6L113.6 198.9L107.0 198.9Z"/>
<path d="M111.6 193.6L114.9 199.9L108.3 199.9Z"/>
<path d="M112.8 196.7L116.1 203.0L109.5 203.0Z"/>
<path d="M114.0 199.1L117.3 205.4L110.7 205.4Z"/>
<path d="M115.3 199.8L118.6 206.1L112.0 206.1Z"/>
<path d="M116.5 201.0L119.8 207.3L113.2 207.3Z"/>
<path d="M117.8 203.0L121.1 209.3L114.5 209.3Z"/>
<path d="M119.0 203.5L122.3 209.8L115.7 209.8Z"/>
<path d="M120.2 205.4L123.5 211.7L116.9 211.7Z"/>
<path d="M121.5 206.3L124.8 212.6L118.2 212.6Z"/>
<path d="M122.7 207.6L126.0 213.9L119.4 213.9Z"/>
<path d="M124.0 208.0L127.3 214.3L120.7 214.3Z"/>
<path d="M125.2 208.3L128.5 214.6L121.9 214.6Z"/>
<path d="M126.4 208.8L129.7 215.1L123.1 215.1Z"/>
<path d="M127.7 209.1L131.0 215.4L124.4 215.4Z"/>
<path d="M128.9 209.6L132.2 215.9L125.6 215.9Z"/>
<path d="M130.2 209.9L133.5 216.2L126.9 216.2Z"/>
<path d="M131.4 210.9L134.7 217.2L128.1 217.2Z"/>
<path d="M132.7 210.7L136.0 217.0L129.3 217.0Z"/>
<path d="M133.9 209.9L137.2 216.2L130.6 216.2Z"/>
<path d="M135.1 210.9L138.4 217.2L131.8 217.2Z"/>
<path d="M136.4 210.7L139.7 217.0L133.1 217.0Z"/>
<path d="M137.6 211.0L140.9 217.3L134.3 217.3Z"/>
<path d="M138.9 210.9L142.2 217.2L135.6 217.2Z"/>
<path d="M140.1 211.1L143.4 217.4L136.8 217.4Z"/>
<path d="M141.3 211.5L144.6 217.8L138.0 217.8Z"/>
<path d="M142.6 211.5L145.9 217.8L139.3 217.8Z"/>
<path d="M143.8 211.3L147.1 217.6L140.5 217.6Z"/>
<path d="M145.1 211.5L148.4 217.8L141.8 217.8Z"/>
<path d="M146.3 212.0L149.6 218.3L143.0 218.3Z"/>
<path d="M147.5 211.4L150.8 217.7L144.2 217.7Z"/>
<path d="M148.8 211.3L152.1 217.6L145.5 217.6Z"/>
<path d="M150.0 211.3L153.3 217.6L146.7 217.6Z"/>
<path d="M151.3 211.4L154.6 217.7L148.0 217.7Z"/>
<path d="M152.5 212.0L155.8 218.3L149.2 218.3Z"/>
<path d="M153.7 211.3L157.0 217.6L150.4 217.6Z"/>
<path d="M155.0 211.8L158.3 218.1L151.7 218.1Z"/>
<path d="M156.2 212.0L159.5 218.3L152.9 218.3Z"/>
<path d="M157.5 211.9L160.8 218.2L154.2 218.2Z"/>
<path d="M158.7 212.0L162.0 218.3L155.4 218.3Z"/>
<path d="M160.0 212.1L163.3 218.4L156.7 218.4Z"/>
<path d="M161.2 211.9L164.5 218.2L157.9 218.2Z"/>
<path d="M162.4 211.8L165.7 218.1L159.1 218.1Z"/>
<path d="M163.7 211.9L167.0 218.2L160.4 218.2Z"/>
<path d="M164.9 211.9L168.2 218.2L161.6 218.2Z"/>
<path d="M166.2 212.0L169.5 218.3L162.9 218.3Z"/>
<path d="M167.4 212.1L170.7 218.4L164.1 218.4Z"/>
<path d="M168.6 212.1L171.9 218.4L165.3 218.4Z"/>
<path d="M169.9 211.8L173.2 218.1L166.6 218.1Z"/>
<path d="M171.1 212.1L174.4 218.4L167.8 218.4Z"/>
<path d="M172.4 212.1L175.7 218.4L169.1 218.4Z"/>
<path d="M173.6 211.8L176.9 218.1L170.3 218.1Z"/>
<path d="M174.8 212.0L178.1 218.3L171.5 218.3Z"/>
<path d="M176.1 211.9L179.4 218.2L172.8 218.2Z"/>
<path d="M177.3 212.0L180.6 218.3L174.0 218.3Z"/>
<path d="M178.6 212.1L181.9 218.4L175.3 218.4Z"/>
<path d="M179.8 212.1L183.1 218.4L176.5 218.4Z"/>
<path d="M181.0 212.0L184.3 218.3L177.7 218.3Z"/>
<path d="M182.3 212.1L185.6 218.4L179.0 218.4Z"/>
<path d="M183.5 212.1L186.8 218.4L180.2 218.4Z"/>
<path d="M184.8 212.0L188.1 218.3L181.5 218.3Z"/>
<path d="M186.0 211.8L189.3 218.1L182.7 218.1Z"/>
<path d="M187.3 212.1L190.6 218.4L184.0 218.4Z"/>
<path d="M188.5 211.8L191.8 218.1L185.2 218.1Z"/>
<path d="M189.7 212.1L193.0 218.4L186.4 218.4Z"/>
<path d="M191.0 211.8L194.3 218.1L187.7 218.1Z"/>
<path d="M192.2 211.8L195.5 218.1L188.9 218.1Z"/>
<path d="M193.5 211.7L196.8 218.0L190.2 218.0Z"/>
<path d="M194.7 211.8L198.0 218.1L191.4 218.1Z"/>
<path d="M195.9 211.8L199.2 218.1L192.6 218.1Z"/>
<path d="M197.2 211.7L200.5 218.0L193.9 218.0Z"/>
<path d="M198.4 212.1L201.7 218.4L195.1 218.4Z"/>
<path d="M199.7 212.1L203.0 218.4L196.4 218.4Z"/>
<path d="M200.9 211.8L204.2 218.1L197.6 218.1Z"/>
<path d="M202.1 212.1L205.4 218.4L198.8 218.4Z"/>
<path d="M203.4 212.1L206.7 218.4L200.1 218.4Z"/>
<path d="M204.6 212.1L207.9 218.4L201.3 218.4Z"/>
<path d="M205.9 212.1L209.2 218.4L202.6 218.4Z"/>
<path d="M207.1 212.1L210.4 218.4L203.8 218.4Z"/>
<path d="M208.4 211.9L211.7 218.2L205.1 218.2Z"/>
<path d="M209.6 212.0L212.9 218.3L206.3 218.3Z"/>
<path d="M210.8 212.1L214.1 218.4L207.5 218.4Z"/>
<path d="M212.1 212.1L215.4 218.4L208.8 218.4Z"/>
<path d="M213.3 212.1L216.6 218.4L210.0 218.4Z"/>
<path d="M214.6 212.0L217.9 218.3L211.3 218.3Z"/>
<path d="M215.8 212.1L219.1 218.4L212.5 218.4Z"/>
<path d="M217.0 212.1L220.3 218.4L213.7 218.4Z"/>
<path d="M218.3 212.1L221.6 218.4L215.0 218.4Z"/>
<path d="M219.5 211.9L222.8 218.2L216.2 218.2Z"/>
<path d="M220.8 212.1L224.1 218.4L217.5 218.4Z"/>
<path d="M222.0 211.8L225.3 218.1L218.7 218.1Z"/>
<path d="M223.2 212.1L226.5 218.4L219.9 218.4Z"/>
<path d="M224.5 212.1L227.8 218.4L221.2 218.4Z"/>
<path d="M225.7 212.1L229.0 218.4L222.4 218.4Z"/>
<path d="M227.0 212.1L230.3 218.4L223.7 218.4Z"/>
<path d="M228.2 212.1L231.5 218.4L224.9 218.4Z"/>
<path d="M229.4 212.1L232.7 218.4L226.1 218.4Z"/>
<path d="M230.7 212.1L234.0 218.4L227.4 218.4Z"/>
<path d="M231.9 211.9L235.2 218.2L228.6 218.2Z"/>
<path d="M233.2 212.0L236.5 218.3L229.9 218.3Z"/>
<path d="M234.4 212.0L237.7 218.3L231.1 218.3Z"/>
<path d="M235.7 211.8L239.0 218.1L232.4 218.1Z"/>
<path d="M236.9 212.1L240.2 218.4L233.6 218.4Z"/>
<path d="M238.1 212.1L241.4 218.4L234.8 218.4Z"/>
<path d="M239.4 211.7L242.7 218.0L236.1 218.0Z"/>
<path d="M240.6 211.9L243.9 218.2L237.3 218.2Z"/>
<path d="M241.9 212.1L245.2 218.4L238.6 218.4Z"/>
<path d="M243.1 212.1L246.4 218.4L239.8 218.4Z"/>
<path d="M244.3 212.1L247.6 218.4L241.0 218.4Z"/>
<path d="M245.6 212.1L248.9 218.4L242.3 218.4Z"/>
<path d="M246.8 212.0L250.1 218.3L243.5 218.3Z"/>
<path d="M248.1 211.7L251.4 218.0L244.8 218.0Z"/>
<path d="M249.3 212.1L252.6 218.4L246.0 218.4Z"/>
<path d="M250.5 211.7L253.8 218.0L247.2 218.0Z"/>
<path d="M251.8 211.9L255.1 218.2L248.5 218.2Z"/>
<path d="M253.0 212.1L256.3 218.4L249.7 218.4Z"/>
<path d="M254.3 212.1L257.6 218.4L251.0 218.4Z"/>
<path d="M255.5 212.1L258.8 218.4L252.2 218.4Z"/>
<path d="M256.8 212.0L260.1 218.3L253.4 218.3Z"/>
<path d="M258.0 212.1L261.3 218.4L254.7 218.4Z"/>
<path d="M259.2 211.7L262.5 218.0L255.9 218.0Z"/>
<path d="M260.5 212.1L263.8 218.4L257.2 218.4Z"/>
<path d="M261.7 212.1L265.0 218.4L258.4 218.4Z"/>
<path d="M263.0 211.9L266.3 218.2L259.7 218.2Z"/>
<path d="M264.2 212.1L267.5 218.4L260.9 218.4Z"/>
<path d="M265.4 212.1L268.7 218.4L262.1 218.4Z"/>
<path d="M266.7 212.1L270.0 218.4L263.4 218.4Z"/>
<path d="M267.9 211.9L271.2 218.2L264.6 218.2Z"/>
<path d="M269.2 211.9L272.5 218.2L265.9 218.2Z"/>
<path d="M270.4 212.1L273.7 218.4L267.1 218.4Z"/>
<path d="M271.6 212.0L274.9 218.3L268.3 218.3Z"/>
<path d="M272.9 212.1L276.2 218.4L269.6 218.4Z"/>
<path d="M274.1 211.6L277.4 217.9L270.8 217.9Z"/>
<path d="M275.4 212.1L278.7 218.4L272.1 218.4Z"/>
<path d="M276.6 212.0L279.9 218.3L273.3 218.3Z"/>
<path d="M277.8 212.1L281.1 218.4L274.5 218.4Z"/>
<path d="M279.1 212.1L282.4 218.4L275.8 218.4Z"/>
<path d="M280.3 211.7L283.6 218.0L277.0 218.0Z"/>
<path d="M281.6 212.0L284.9 218.3L278.3 218.3Z"/>
<path d="M282.8 212.1L286.1 218.4L279.5 218.4Z"/>
<path d="M284.1 212.1L287.4 218.4L280.8 218.4Z"/>
<path d="M285.3 211.7L288.6 218.0L282.0 218.0Z"/>
<path d="M286.5 212.1L289.8 218.4L283.2 218.4Z"/>
<path d="M287.8 212.1L291.1 218.4L284.5 218.4Z"/>
<path d="M289.0 212.1L292.3 218.4L285.7 218.4Z"/>
<path d="M290.3 212.0L293.6 218.3L287.0 218.3Z"/>
<path d="M291.5 212.1L294.8 218.4L288.2 218.4Z"/>
<path d="M292.7 212.1L296.0 218.4L289.4 218.4Z"/>
<path d="M294.0 211.6L297.3 217.9L290.7 217.9Z"/>
<path d="M295.2 212.1L298.5 218.4L291.9 218.4Z"/>
<path d="M296.5 212.0L299.8 218.3L293.2 218.3Z"/>
<path d="M297.7 212.1L301.0 218.4L294.4 218.4Z"/>
<path d="M298.9 211.9L302.2 218.2L295.6 218.2Z"/>
<path d="M300.2 212.1L303.5 218.4L296.9 218.4Z"/>
<path d="M301.4 212.1L304.7 218.4L298.1 218.4Z"/>
<path d="M302.7 211.5L306.0 217.8L299.4 217.8Z"/>
<path d="M303.9 212.1L307.2 218.4L300.6 218.4Z"/>
<path d="M305.1 212.1L308.4 218.4L301.8 218.4Z"/>
<path d="M306.4 212.1L309.7 218.4L303.1 218.4Z"/>
<path d="M307.6 212.1L310.9 218.4L304.3 218.4Z"/>
<path d="M308.9 211.8L312.2 218.1L305.6 218.1Z"/>
<path d="M310.1 212.1L313.4 218.4L306.8 218.4Z"/>
<path d="M311.4 212.1L314.7 218.4L308.1 218.4Z"/>
<path d="M312.6 212.1L315.9 218.4L309.3 218.4Z"/>
<path d="M313.8 212.1L317.1 218.4L310.5 218.4Z"/>
<path d="M315.1 212.1L318.4 218.4L311.8 218.4Z"/>
<path d="M316.3 211.8L319.6 218.1L313.0 218.1Z"/>
<path d="M317.6 212.1L320.9 218.4L314.3 218.4Z"/>
<path d="M318.8 212.0L322.1 218.3L315.5 218.3Z"/>
<rect x="68.0" y="212.4" width="6.0" height="6.0"/>
<rect x="69.3" y="212.7" width="6.0" height="6.0"/>
<rect x="70.5" y="212.5" width="6.0" height="6.0"/>
<rect x="71.7" y="212.7" width="6.0" height="6.0"/>
<rect x="73.0" y="212.5" width="6.0" height="6.0"/>
<rect x="74.2" y="212.7" width="6.0" height="6.0"/>
<rect x="75.5" y="212.7" width="6.0" height="6.0"/>
<rect x="76.7" y="212.7" width="6.0" height="6.0"/>
<rect x="77.9" y="212.7" width="6.0" height="6.0"/>
<rect x="79.2" y="212.7" width="6.0" height="6.0"/>
<rect x="80.4" y="212.0" width="6.0" height="6.0"/>
<rect x="81.7" y="211.6" width="6.0" height="6.0"/>
<rect x="82.9" y="211.7" width="6.0" height="6.0"/>
<rect x="84.2" y="210.8" width="6.0" height="6.0"/>
<rect x="85.4" y="209.7" width="6.0" height="6.0"/>
<rect x="86.6" y="208.2" width="6.0" height="6.0"/>
<rect x="87.9" y="206.6" width="6.0" height="6.0"/>
<rect x="89.1" y="203.3" width="6.0" height="6.0"/>
<rect x="90.4" y="200.7" width="6.0" height="6.0"/>
<rect x="91.6" y="198.0" width="6.0" height="6.0"/>
<rect x="92.8" y="194.3" width="6.0" height="6.0"/>
<rect x="94.1" y="191.1" width="6.0" height="6.0"/>
<rect x="95.3" y="187.6" width="6.0" height="6.0"/>
<rect x="96.6" y="184.4" width="6.0" height="6.0"/>
<rect x="97.8" y="182.7" width="6.0" height="6.0"/>
<rect x="99.0" y="183.5" width="6.0" height="6.0"/>
<rect x="100.3" y="183.3" width="6.0" height="6.0"/>
<rect x="101.5" y="185.1" width="6.0" height="6.0"/>
<rect x="102.8" y="187.1" width="6.0" height="6.0"/>
<rect x="104.0" y="188.1" width="6.0" height="6.0"/>
<rect x="105.3" y="189.0" width="6.0" height="6.0"/>
<rect x="106.5" y="191.9" width="6.0" height="6.0"/>
<rect x="107.7" y="193.2" width="6.0" height="6.0"/>
<rect x="109.0" y="194.5" width="6.0" height="6.0"/>
<rect x="110.2" y="197.1" width="6.0" height="6.0"/>
<rect x="111.5" y="198.9" width="6.0" height="6.0"/>
<rect x="112.7" y="200.8" width="6.0" height="6.0"/>
<rect x="113.9" y="202.8" width="6.0" height="6.0"/>
<rect x="115.2" y="203.6" width="6.0" height="6.0"/>
<rect x="116.4" y="204.8" width="6.0" height="6.0"/>
<rect x="117.7" y="205.9" width="6.0" height="6.0"/>
<rect x="118.9" y="207.3" width="6.0" height="6.0"/>
<rect x="120.1" y="208.1" width="6.0" height="6.0"/>
<rect x="121.4" y="208.2" width="6.0" height="6.0"/>
<rect x="122.6" y="209.4" width="6.0" height="6.0"/>
<rect x="123.9" y="209.7" width="6.0" height="6.0"/>
<rect x="125.1" y="210.9" width="6.0" height="6.0"/>
<rect x="126.3" y="210.7" width="6.0" height="6.0"/>
<rect x="127.6" y="210.9" width="6.0" height="6.0"/>
<rect x="128.8" y="211.3" width="6.0" height="6.0"/>
<rect x="130.1" y="210.6" width="6.0" height="6.0"/>
<rect x="131.3" y="211.3" width="6.0" height="6.0"/>
<rect x="132.6" y="211.9" width="6.0" height="6.0"/>
<rect x="133.8" y="211.4" width="6.0" height="6.0"/>
<rect x="135.0" y="211.6" width="6.0" height="6.0"/>
<rect x="136.3" y="211.6" width="6.0" height="6.0"/>
<rect x="137.5" y="211.3" width="6.0" height="6.0"/>
<rect x="138.8" y="211.8" width="6.0" height="6.0"/>
<rect x="140.0" y="211.9" width="6.0" height="6.0"/>
<rect x="141.2" y="212.1" width="6.0" height="6.0"/>
<rect x="142.5" y="212.2" width="6.0" height="6.0"/>
<rect x="143.7" y="212.0" width="6.0" height="6.0"/>
<rect x="145.0" y="212.1" width="6.0" height="6.0"/>
<rect x="146.2" y="212.4" width="6.0" height="6.0"/>
<rect x="147.4" y="212.3" width="6.0" height="6.0"/>
<rect x="148.7" y="212.2" width="6.0" height="6.0"/>
<rect x="149.9" y="212.2" width="6.0" height="6.0"/>
<rect x="151.2" y="212.4" width="6.0" height="6.0"/>
<rect x="152.4" y="212.7" width="6.0" height="6.0"/>
<rect x="153.7" y="212.3" width="6.0" height="6.0"/>
<rect x="154.9" y="212.5" width="6.0" height="6.0"/>
<rect x="156.1" y="212.6" width="6.0" height="6.0"/>
<rect x="157.4" y="212.5" width="6.0" height="6.0"/>
<rect x="158.6" y="212.7" width="6.0" height="6.0"/>
<rect x="159.9" y="212.4" width="6.0" height="6.0"/>
<rect x="161.1" y="212.6" width="6.0" height="6.0"/>
<rect x="162.3" y="212.7" width="6.0" height="6.0"/>
<rect x="163.6" y="212.4" width="6.0" height="6.0"/>
<rect x="164.8" y="212.4" width="6.0" height="6.0"/>
<rect x="166.1" y="212.6" width="6.0" height="6.0"/>
<rect x="167.3" y="212.4" width="6.0" height="6.0"/>
<rect x="168.5" y="212.7" width="6.0" height="6.0"/>
<rect x="169.8" y="212.2" width="6.0" height="6.0"/>
<rect x="171.0" y="212.5" width="6.0" height="6.0"/>
<rect x="172.3" y="212.3" width="6.0" height="6.0"/>
<rect x="173.5" y="212.7" width="6.0" height="6.0"/>
<rect x="174.7" y="212.7" width="6.0" height="6.0"/>
<rect x="176.0" y="212.7" width="6.0" height="6.0"/>
<rect x="177.2" y="212.7" width="6.0" height="6.0"/>
<rect x="178.5" y="212.1" width="6.0" height="6.0"/>
<rect x="179.7" y="212.6" width="6.0" height="6.0"/>
<rect x="181.0" y="212.7" width="6.0" height="6.0"/>
<rect x="182.2" y="212.5" width="6.0" height="6.0"/>
<rect x="183.4" y="212.6" width="6.0" height="6.0"/>
<rect x="184.7" y="212.7" width="6.0" height="6.0"/>
<rect x="185.9" y="212.4" width="6.0" height="6.0"/>
<rect x="187.2" y="212.4" width="6.0" height="6.0"/>
<rect x="188.4" y="212.7" width="6.0" height="6.0"/>
<rect x="189.6" y="212.7" width="6.0" height="6.0"/>
<rect x="190.9" y="212.5" width="6.0" height="6.0"/>
<rect x="192.1" y="212.6" width="6.0" height="6.0"/>
<rect x="193.4" y="212.7" width="6.0" height="6.0"/>
<rect x="194.6" y="212.7" width="6.0" height="6.0"/>
<rect x="195.8" y="212.7" width="6.0" height="6.0"/>
<rect x="197.1" y="212.6" width="6.0" height="6.0"/>
<rect x="198.3" y="212.7" width="6.0" height="6.0"/>
<rect x="199.6" y="212.7" width="6.0" height="6.0"/>
<rect x="200.8" y="212.5" width="6.0" height="6.0"/>
<rect x="202.0" y="212.2" width="6.0" height="6.0"/>
<rect x="203.3" y="212.6" width="6.0" height="6.0"/>
<rect x="204.5" y="212.5" width="6.0" height="6.0"/>
<rect x="205.8" y="212.7" width="6.0" height="6.0"/>
<rect x="207.0" y="212.2" width="6.0" height="6.0"/>
<rect x="208.3" y="212.7" width="6.0" height="6.0"/>
<rect x="209.5" y="212.3" width="6.0" height="6.0"/>
<rect x="210.7" y="212.3" width="6.0" height="6.0"/>
<rect x="212.0" y="212.7" width="6.0" height="6.0"/>
<rect x="213.2" y="212.5" width="6.0" height="6.0"/>
<rect x="214.5" y="212.7" width="6.0" height="6.0"/>
<rect x="215.7" y="212.6" width="6.0" height="6.0"/>
<rect x="216.9" y="212.7" width="6.0" height="6.0"/>
<rect x="218.2" y="212.6" width="6.0" height="6.0"/>
<rect x="219.4" y="212.7" width="6.0" height="6.0"/>
<rect x="220.7" y="212.7" width="6.0" height="6.0"/>
<rect x="221.9" y="212.7" width="6.0" height="6.0"/>
<rect x="223.1" y="212.6" width="6.0" height="6.0"/>
<rect x="224.4" y="212.5" width="6.0" height="6.0"/>
<rect x="225.6" y="212.7" width="6.0" height="6.0"/>
<rect x="226.9" y="212.7" width="6.0" height="6.0"/>
<rect x="228.1" y="212.7" width="6.0" height="6.0"/>
<rect x="229.4" y="212.4" width="6.0" height="6.0"/>
<rect x="230.6" y="212.2" width="6.0" height="6.0"/>
<rect x="231.8" y="212.6" width="6.0" height="6.0"/>
<rect x="233.1" y="212.7" width="6.0" height="6.0"/>
<rect x="234.3" y="212.7" width="6.0" height="6.0"/>
<rect x="235.6" y="212.7" width="6.0" height="6.0"/>
<rect x="236.8" y="212.7" width="6.0" height="6.0"/>
<rect x="238.0" y="212.7" width="6.0" height="6.0"/>
<rect x="239.3" y="212.6" width="6.0" height="6.0"/>
<rect x="240.5" y="212.7" width="6.0" height="6.0"/>
<rect x="241.8" y="212.7" width="6.0" height="6.0"/>
<rect x="243.0" y="212.7" width="6.0" height="6.0"/>
<rect x="244.2" y="212.7" width="6.0" height="6.0"/>
<rect x="245.5" y="212.7" width="6.0" height="6.0"/>
<rect x="246.7" y="212.5" width="6.0" height="6.0"/>
<rect x="248.0" y="212.7" width="6.0" height="6.0"/>
<rect x="249.2" y="212.0" width="6.0" height="6.0"/>
<rect x="250.4" y="212.7" width="6.0" height="6.0"/>
<rect x="251.7" y="212.2" width="6.0" height="6.0"/>
<rect x="252.9" y="212.7" width="6.0" height="6.0"/>
<rect x="254.2" y="212.6" width="6.0" height="6.0"/>
<rect x="255.4" y="212.7" width="6.0" height="6.0"/>
<rect x="256.7" y="212.2" width="6.0" height="6.0"/>
<rect x="257.9" y="212.5" width="6.0" height="6.0"/>
<rect x="259.1" y="212.5" width="6.0" height="6.0"/>
<rect x="260.4" y="212.6" width="6.0" height="6.0"/>
<rect x="261.6" y="212.7" width="6.0" height="6.0"/>
<rect x="262.9" y="212.6" width="6.0" height="6.0"/>
<rect x="264.1" y="212.7" width="6.0" height="6.0"/>
<rect x="265.3" y="212.7" width="6.0" height="6.0"/>
<rect x="266.6" y="212.4" width="6.0" height="6.0"/>
<rect x="267.8" y="212.4" width="6.0" height="6.0"/>
<rect x="269.1" y="212.7" width="6.0" height="6.0"/>
<rect x="270.3" y="212.7" width="6.0" height="6.0"/>
<rect x="271.5" y="212.7" width="6.0" height="6.0"/>
<rect x="272.8" y="212.7" width="6.0" height="6.0"/>
<rect x="274.0" y="212.7" width="6.0" height="6.0"/>
<rect x="275.3" y="212.7" width="6.0" height="6.0"/>
<rect x="276.5" y="212.7" width="6.0" height="6.0"/>
<rect x="277.8" y="212.7" width="6.0" height="6.0"/>
<rect x="279.0" y="212.7" width="6.0" height="6.0"/>
<rect x="280.2" y="212.2" width="6.0" height="6.0"/>
<rect x="281.5" y="212.5" width="6.0" height="6.0"/>
<rect x="282.7" y="212.3" width="6.0" height="6.0"/>
<rect x="284.0" y="212.7" width="6.0" height="6.0"/>
<rect x="285.2" y="212.7" width="6.0" height="6.0"/>
<rect x="286.4" y="212.7" width="6.0" height="6.0"/>
<rect x="287.7" y="212.7" width="6.0" height="6.0"/>
<rect x="288.9" y="212.7" width="6.0" height="6.0"/>
<rect x="290.2" y="212.6" width="6.0" height="6.0"/>
<rect x="291.4" y="212.7" width="6.0" height="6.0"/>
<rect x="292.6" y="212.5" width="6.0" height="6.0"/>
<rect x="293.9" y="212.7" width="6.0" height="6.0"/>
<rect x="295.1" y="212.7" width="6.0" height="6.0"/>
<rect x="296.4" y="212.7" width="6.0" height="6.0"/>
<rect x="297.6" y="212.7" width="6.0" height="6.0"/>
<rect x="298.8" y="212.7" width="6.0" height="6.0"/>
<rect x="300.1" y="212.5" width="6.0" height="6.0"/>
<rect x="301.3" y="212.7" width="6.0" height="6.0"/>
<rect x="302.6" y="212.7" width="6.0" height="6.0"/>
<rect x="303.8" y="212.6" width="6.0" height="6.0"/>
<rect x="305.1" y="212.7" width="6.0" height="6.0"/>
<rect x="306.3" y="212.7" width="6.0" height="6.0"/>
<rect x="307.5" y="212.6" width="6.0" height="6.0"/>
<rect x="308.8" y="212.3" width="6.0" height="6.0"/>
<rect x="310.0" y="212.7" width="6.0" height="6.0"/>
<rect x="311.3" y="212.7" width="6.0" height="6.0"/>
<rect x="312.5" y="212.6" width="6.0" height="6.0"/>
<rect x="313.7" y="212.7" width="6.0" height="6.0"/>
<rect x="315.0" y="212.7" width="6.0" height="6.0"/>
<rect x="316.2" y="212.7" width="6.0" height="6.0"/>
<circle cx="71.4" cy="215.7" r="3.0"/>
<circle cx="72.7" cy="215.6" r="3.0"/>
<circle cx="73.9" cy="215.6" r="3.0"/>
<circle cx="75.2" cy="215.7" r="3.0"/>
<circle cx="76.4" cy="215.6" r="3.0"/>
<circle cx="77.6" cy="215.2" r="3.0"/>
<circle cx="78.9" cy="215.7" r="3.0"/>
<circle cx="80.1" cy="215.7" r="3.0"/>
<circle cx="81.4" cy="215.7" r="3.0"/>
<circle cx="82.6" cy="215.6" r="3.0"/>
<circle cx="83.9" cy="215.4" r="3.0"/>
<circle cx="85.1" cy="214.5" r="3.0"/>
<circle cx="86.3" cy="214.5" r="3.0"/>
<circle cx="87.6" cy="213.6" r="3.0"/>
<circle cx="88.8" cy="212.6" r="3.0"/>
<circle cx="90.1" cy="210.6" r="3.0"/>
<circle cx="91.3" cy="208.9" r="3.0"/>
<circle cx="92.5" cy="206.9" r="3.0"/>
<circle cx="93.8" cy="203.1" r="3.0"/>
<circle cx="95.0" cy="199.7" r="3.0"/>
<circle cx="96.3" cy="196.5" r="3.0"/>
<circle cx="97.5" cy="192.4" r="3.0"/>
<circle cx="98.7" cy="190.7" r="3.0"/>
<circle cx="100.0" cy="188.2" r="3.0"/>
<circle cx="101.2" cy="187.2" r="3.0"/>
<circle cx="102.5" cy="186.2" r="3.0"/>
<circle cx="103.7" cy="187.6" r="3.0"/>
<circle cx="105.0" cy="188.8" r="3.0"/>
<circle cx="106.2" cy="187.7" r="3.0"/>
<circle cx="107.4" cy="191.7" r="3.0"/>
<circle cx="108.7" cy="192.8" r="3.0"/>
<circle cx="109.9" cy="195.2" r="3.0"/>
<circle cx="111.2" cy="197.0" r="3.0"/>
<circle cx="112.4" cy="198.6" r="3.0"/>
<circle cx="113.6" cy="200.4" r="3.0"/>
<circle cx="114.9" cy="203.0" r="3.0"/>
<circle cx="116.1" cy="203.1" r="3.0"/>
<circle cx="117.4" cy="205.5" r="3.0"/>
<circle cx="118.6" cy="206.3" r="3.0"/>
<circle cx="119.8" cy="208.4" r="3.0"/>
<circle cx="121.1" cy="209.1" r="3.0"/>
<circle cx="122.3" cy="210.2" r="3.0"/>
<circle cx="123.6" cy="211.1" r="3.0"/>
<circle cx="124.8" cy="212.2" r="3.0"/>
<circle cx="126.0" cy="212.0" r="3.0"/>
<circle cx="127.3" cy="212.9" r="3.0"/>
<circle cx="128.5" cy="213.5" r="3.0"/>
<circle cx="129.8" cy="213.8" r="3.0"/>
<circle cx="131.0" cy="213.0" r="3.0"/>
<circle cx="132.3" cy="214.0" r="3.0"/>
<circle cx="133.5" cy="214.1" r="3.0"/>
<circle cx="134.7" cy="213.8" r="3.0"/>
<circle cx="136.0" cy="214.1" r="3.0"/>
<circle cx="137.2" cy="214.1" r="3.0"/>
<circle cx="138.5" cy="214.8" r="3.0"/>
<circle cx="139.7" cy="214.5" r="3.0"/>
<circle cx="140.9" cy="214.6" r="3.0"/>
<circle cx="142.2" cy="215.4" r="3.0"/>
<circle cx="143.4" cy="214.7" r="3.0"/>
<circle cx="144.7" cy="214.9" r="3.0"/>
<circle cx="145.9" cy="215.1" r="3.0"/>
<circle cx="147.1" cy="215.1" r="3.0"/>
<circle cx="148.4" cy="215.5" r="3.0"/>
<circle cx="149.6" cy="215.3" r="3.0"/>
<circle cx="150.9" cy="214.8" r="3.0"/>
<circle cx="152.1" cy="215.6" r="3.0"/>
<circle cx="153.3" cy="215.0" r="3.0"/>
<circle cx="154.6" cy="215.4" r="3.0"/>
<circle cx="155.8" cy="215.1" r="3.0"/>
<circle cx="157.1" cy="215.2" r="3.0"/>
<circle cx="158.3" cy="215.5" r="3.0"/>
<circle cx="159.6" cy="215.4" r="3.0"/>
<circle cx="160.8" cy="215.6" r="3.0"/>
<circle cx="162.0" cy="215.1" r="3.0"/>
<circle cx="163.3" cy="215.2" r="3.0"/>
<circle cx="164.5" cy="215.3" r="3.0"/>
<circle cx="165.8" cy="215.7" r="3.0"/>
<circle cx="167.0" cy="215.6" r="3.0"/>
<circle cx="168.2" cy="215.0" r="3.0"/>
<circle cx="169.5" cy="215.7" r="3.0"/>
<circle cx="170.7" cy="215.3" r="3.0"/>
<circle cx="172.0" cy="215.6" r="3.0"/>
<circle cx="173.2" cy="215.4" r="3.0"/>
<circle cx="174.4" cy="215.3" r="3.0"/>
<circle cx="175.7" cy="215.4" r="3.0"/>
<circle cx="176.9" cy="215.3" r="3.0"/>
<circle cx="178.2" cy="215.7" r="3.0"/>
<circle cx="179.4" cy="215.7" r="3.0"/>
<circle cx="180.7" cy="215.7" r="3.0"/>
<circle cx="181.9" cy="215.5" r="3.0"/>
<circle cx="183.1" cy="215.7" r="3.0"/>
<circle cx="184.4" cy="215.6" r="3.0"/>
<circle cx="185.6" cy="215.5" r="3.0"/>
<circle cx="186.9" cy="215.7" r="3.0"/>
<circle cx="188.1" cy="215.7" r="3.0"/>
<circle cx="189.3" cy="215.7" r="3.0"/>
<circle cx="190.6" cy="215.7" r="3.0"/>
<circle cx="191.8" cy="215.7" r="3.0"/>
<circle cx="193.1" cy="215.5" r="3.0"/>
<circle cx="194.3" cy="215.1" r="3.0"/>
<circle cx="195.5" cy="215.2" r="3.0"/>
<circle cx="196.8" cy="215.7" r="3.0"/>
<circle cx="198.0" cy="215.5" r="3.0"/>
<circle cx="199.3" cy="215.7" r="3.0"/>
<circle cx="200.5" cy="215.7" r="3.0"/>
<circle cx="201.7" cy="215.7" r="3.0"/>
<circle cx="203.0" cy="215.7" r="3.0"/>
<circle cx="204.2" cy="215.7" r="3.0"/>
<circle cx="205.5" cy="215.7" r="3.0"/>
<circle cx="206.7" cy="215.7" r="3.0"/>
<circle cx="208.0" cy="215.7" r="3.0"/>
<circle cx="209.2" cy="215.7" r="3.0"/>
<circle cx="210.4" cy="215.7" r="3.0"/>
<circle cx="211.7" cy="215.7" r="3.0"/>
<circle cx="212.9" cy="215.5" r="3.0"/>
<circle cx="214.2" cy="215.6" r="3.0"/>
<circle cx="215.4" cy="215.7" r="3.0"/>
<circle cx="216.6" cy="215.7" r="3.0"/>
<circle cx="217.9" cy="215.7" r="3.0"/>
<circle cx="219.1" cy="215.7" r="3.0"/>
<circle cx="220.4" cy="215.5" r="3.0"/>
<circle cx="221.6" cy="215.7" r="3.0"/>
<circle cx="222.8" cy="215.7" r="3.0"/>
<circle cx="224.1" cy="215.0" r="3.0"/>
<circle cx="225.3" cy="215.7" r="3.0"/>
<circle cx="226.6" cy="215.7" r="3.0"/>
<circle cx="227.8" cy="215.7" r="3.0"/>
<circle cx="229.1" cy="215.5" r="3.0"/>
<circle cx="230.3" cy="215.7" r="3.0"/>
<circle cx="231.5" cy="215.7" r="3.0"/>
<circle cx="232.8" cy="215.7" r="3.0"/>
<circle cx="234.0" cy="215.7" r="3.0"/>
<circle cx="235.3" cy="215.2" r="3.0"/>
<circle cx="236.5" cy="215.7" r="3.0"/>
<circle cx="237.7" cy="215.4" r="3.0"/>
<circle cx="239.0" cy="215.7" r="3.0"/>
<circle cx="240.2" cy="215.7" r="3.0"/>
<circle cx="241.5" cy="215.7" r="3.0"/>
<circle cx="242.7" cy="215.7" r="3.0"/>
<circle cx="243.9" cy="215.7" r="3.0"/>
<circle cx="245.2" cy="215.7" r="3.0"/>
<circle cx="246.4" cy="215.7" r="3.0"/>
<circle cx="247.7" cy="215.7" r="3.0"/>
<circle cx="248.9" cy="215.6" r="3.0"/>
<circle cx="250.1" cy="215.7" r="3.0"/>
<circle cx="251.4" cy="215.6" r="3.0"/>
<circle cx="252.6" cy="215.2" r="3.0"/>
<circle cx="253.9" cy="215.7" r="3.0"/>
<circle cx="255.1" cy="215.0" r="3.0"/>
<circle cx="256.4" cy="215.6" r="3.0"/>
<circle cx="257.6" cy="215.7" r="3.0"/>
<circle cx="258.8" cy="215.7" r="3.0"/>
<circle cx="260.1" cy="215.7" r="3.0"/>
<circle cx="261.3" cy="215.7" r="3.0"/>
<circle cx="262.6" cy="215.7" r="3.0"/>
<circle cx="263.8" cy="215.4" r="3.0"/>
<circle cx="265.0" cy="215.6" r="3.0"/>
<circle cx="266.3" cy="215.7" r="3.0"/>
<circle cx="267.5" cy="215.7" r="3.0"/>
<circle cx="268.8" cy="215.7" r="3.0"/>
<circle cx="270.0" cy="215.7" r="3.0"/>
<circle cx="271.2" cy="215.7" r="3.0"/>
<circle cx="272.5" cy="215.7" r="3.0"/>
<circle cx="273.7" cy="215.4" r="3.0"/>
<circle cx="275.0" cy="215.7" r="3.0"/>
<circle cx="276.2" cy="215.7" r="3.0"/>
<circle cx="277.4" cy="215.4" r="3.0"/>
<circle cx="278.7" cy="215.7" r="3.0"/>
<circle cx="279.9" cy="215.2" r="3.0"/>
<circle cx="281.2" cy="215.7" r="3.0"/>
<circle cx="282.4" cy="215.0" r="3.0"/>
<circle cx="283.7" cy="215.7" r="3.0"/>
<circle cx="284.9" cy="215.5" r="3.0"/>
<circle cx="286.1" cy="215.7" r="3.0"/>
<circle cx="287.4" cy="215.7" r="3.0"/>
<circle cx="288.6" cy="215.7" r="3.0"/>
<circle cx="289.9" cy="215.7" r="3.0"/>
<circle cx="291.1" cy="215.7" r="3.0"/>
<circle cx="292.3" cy="215.4" r="3.0"/>
<circle cx="293.6" cy="215.7" r="3.0"/>
<circle cx="294.8" cy="215.7" r="3.0"/>
<circle cx="296.1" cy="215.7" r="3.0"/>
<circle cx="297.3" cy="215.7" r="3.0"/>
<circle cx="298.5" cy="215.6" r="3.0"/>
<circle cx="299.8" cy="215.7" r="3.0"/>
<circle cx="301.0" cy="215.7" r="3.0"/>
<circle cx="302.3" cy="215.7" r="3.0"/>
<circle cx="303.5" cy="215.6" r="3.0"/>
<circle cx="304.8" cy="215.7" r="3.0"/>
<circle cx="306.0" cy="215.7" r="3.0"/>
<circle cx="307.2" cy="215.7" r="3.0"/>
<circle cx="308.5" cy="215.7" r="3.0"/>
<circle cx="309.7" cy="215.6" r="3.0"/>
<circle cx="311.0" cy="215.5" r="3.0"/>
<circle cx="312.2" cy="215.5" r="3.0"/>
<circle cx="313.4" cy="215.4" r="3.0"/>
<circle cx="314.7" cy="215.7" r="3.0"/>
<circle cx="315.9" cy="215.5" r="3.0"/>
<circle cx="317.2" cy="215.6" r="3.0"/>
<circle cx="318.4" cy="215.7" r="3.0"/>
<circle cx="319.6" cy="215.7" r="3.0"/>
</g>
<g stroke="#000" stroke-width="2" fill="none">
<path d="M70.8 49.9V216.7"/>
<path d="M69.8 215.7H318.8"/>
<path d="M62.7 215.70H70.8"/>
<path d="M62.7 182.54H70.8"/>
<path d="M62.7 149.38H70.8"/>
<path d="M62.7 116.22H70.8"/>
<path d="M62.7 83.06H70.8"/>
<path d="M62.7 49.90H70.8"/>
<path d="M70.60 215.7V221"/>
<path d="M120.24 215.7V221"/>
<path d="M169.88 215.7V221"/>
<path d="M219.52 215.7V221"/>
<path d="M269.16 215.7V221"/>
<path d="M318.80 215.7V221"/>
</g>
<text transform="translate(40.45,217.95) scale(1.0752,1)" font-size="14.39" fill="#262626" stroke="#262626">0.0</text>
<text transform="translate(39.84,184.79) scale(1.1065,1)" font-size="14.39" fill="#262626" stroke="#262626">1.0</text>
<text transform="translate(40.27,151.63) scale(1.0845,1)" font-size="14.39" fill="#262626" stroke="#262626">2.0</text>
<text transform="translate(40.46,118.47) scale(1.0744,1)" font-size="14.39" fill="#262626" stroke="#262626">3.0</text>
<text transform="translate(40.70,85.31) scale(1.0622,1)" font-size="14.39" fill="#262626" stroke="#262626">4.0</text>
<text transform="translate(40.43,52.15) scale(1.0760,1)" font-size="14.39" fill="#262626" stroke="#262626">5.0</text>
<text transform="translate(68.07,236.15) scale(1.0322,1)" font-size="14.39" fill="#262626" stroke="#262626">0</text>
<text transform="translate(111.79,236.15) scale(1.0562,1)" font-size="14.39" fill="#262626" stroke="#262626">200</text>
<text transform="translate(161.86,236.15) scale(1.0382,1)" font-size="14.39" fill="#262626" stroke="#262626">400</text>
<text transform="translate(211.03,236.15) scale(1.0565,1)" font-size="14.39" fill="#262626" stroke="#262626">600</text>
<text transform="translate(260.74,236.15) scale(1.0516,1)" font-size="14.39" fill="#262626" stroke="#262626">800</text>
<text transform="translate(307.88,236.15) scale(1.0641,1)" font-size="14.39" fill="#262626" stroke="#262626">1000</text>
<text transform="translate(146.26,252.45) scale(1.0645,1)" font-size="20.49" fill="#262626" stroke="#262626">Size / nm</text>
<text transform="translate(19.25,207.07) rotate(-90) scale(1.1304,1)" font-size="14.24" fill="#262626" stroke="#262626">Exosome concentration</text>
<text transform="translate(34.15,195.32) rotate(-90) scale(1.0614,1)" font-size="14.68" fill="#262626" stroke="#262626">(E+09 particles/mL)</text>
<g fill="#000"><path d="M211.5 48.0L214.2 53.2L208.8 53.2Z"/></g>
<text transform="translate(230.28,55.05) scale(1.0549,1)" font-size="14.68" fill="#262626" stroke="#262626">HA-Exo-1</text>
<rect x="209.3" y="65.3" width="4.4" height="4.4" fill="none" stroke="#000" stroke-width="1.7"/>
<text transform="translate(230.28,72.05) scale(1.0553,1)" font-size="14.68" fill="#262626" stroke="#262626">HA-Exo-2</text>
<circle cx="211.5" cy="84.5" r="2.2" fill="none" stroke="#000" stroke-width="1.7"/>
<text transform="translate(230.28,89.05) scale(1.0537,1)" font-size="14.68" fill="#262626" stroke="#262626">HA-Exo-3</text>
<g fill="#e8343a"><circle cx="211.5" cy="103.1" r="2.5"/></g>
<text transform="translate(230.35,106.85) scale(1.1153,1)" font-size="13.95" fill="#262626" stroke="#262626">US-HA-Exo-1</text>
<g fill="#e8343a"><path d="M211.5 122.7L214.2 117.5L208.8 117.5Z"/></g>
<text transform="translate(230.35,123.35) scale(1.1516,1)" font-size="13.52" fill="#262626" stroke="#262626">US-HA-Exo-2</text>
<g fill="#e8343a"><path d="M211.5 134.8L214.8 138.0L211.5 141.2L208.2 138.0Z"/></g>
<text transform="translate(230.35,141.95) scale(1.1144,1)" font-size="13.95" fill="#262626" stroke="#262626">US-HA-Exo-3</text>
<rect x="366.8" y="90.25" width="140.7" height="31.15" fill="none" stroke="#e63c46" stroke-width="1.8"/>
<path d="M501.9 105.6H512.7M501.9 97.6V113.7M512.7 97.6V113.7" stroke="#e63c46" stroke-width="1.8" fill="none"/>
<rect x="366.8" y="152.3" width="33.9" height="30.4" fill="none" stroke="#000" stroke-width="1.8"/>
<path d="M400.9 159.7V175.9" stroke="#000" stroke-width="4"/>
<g stroke="#000" stroke-width="2" fill="none">
<path d="M366.8 73.6V199.8"/>
<path d="M365.8 198.8H552.1"/>
<path d="M366.70 198.8V203.5"/>
<path d="M413.05 198.8V203.5"/>
<path d="M459.40 198.8V203.5"/>
<path d="M505.75 198.8V203.5"/>
<path d="M552.10 198.8V203.5"/>
<path d="M361.6 105.9H366.8M361.6 167.5H366.8"/>
</g>
<text transform="translate(362.53,217.25) scale(1.1076,1)" font-size="14.24" fill="#262626" stroke="#262626">0.0</text>
<text transform="translate(406.05,217.25) scale(1.1226,1)" font-size="14.24" fill="#262626" stroke="#262626">2.0</text>
<text transform="translate(452.20,217.25) scale(1.0572,1)" font-size="14.24" fill="#262626" stroke="#262626">4.0</text>
<text transform="translate(499.40,217.25) scale(1.0366,1)" font-size="14.24" fill="#262626" stroke="#262626">6.0</text>
<text transform="translate(541.09,217.25) scale(1.0630,1)" font-size="14.24" fill="#262626" stroke="#262626">8.0</text>
<text transform="translate(389.69,231.25) scale(1.1572,1)" font-size="13.81" fill="#262626" stroke="#262626">Total concentration</text>
<text transform="translate(390.42,247.15) scale(1.1750,1)" font-size="14.10" fill="#262626" stroke="#262626">(E+10particles/ml)</text>
<text transform="translate(356.15,135.62) rotate(-90) scale(1.0988,1)" font-size="13.81" fill="#262626" stroke="#262626">US-HA-Exo</text>
<text transform="translate(356.25,194.89) rotate(-90) scale(1.0832,1)" font-size="13.95" fill="#262626" stroke="#262626">HA-Exo</text>
<g stroke="#000" stroke-width="2" fill="none">
<path d="M748.5 55.1V221.95"/>
<path d="M747.5 220.95H996.6"/>
<path d="M744.3 165.66H748.5"/>
<path d="M744.3 110.38H748.5"/>
<path d="M744.3 55.09H748.5"/>
<path d="M810.5 220.95V225M934.7 220.95V225"/>
</g>
<text transform="translate(721.67,223.80) scale(1.0124,1)" font-size="14.68" fill="#333" stroke="#333">0.0</text>
<text transform="translate(721.67,168.52) scale(1.0147,1)" font-size="14.68" fill="#333" stroke="#333">0.5</text>
<text transform="translate(721.08,113.23) scale(1.0419,1)" font-size="14.68" fill="#333" stroke="#333">1.0</text>
<text transform="translate(721.61,57.94) scale(1.0175,1)" font-size="14.68" fill="#333" stroke="#333">1.5</text>
<g stroke="#222" stroke-width="1.8" fill="none">
<path d="M769.5 175.9H852M790.4 158H831.6M810.5 158V175.9"/>
<path d="M894 107.4H976M914.5 86.1H955.6M935.3 86.1V107.4"/>
</g>
<g fill="#000"><circle cx="810.5" cy="155.9" r="2.7"/><circle cx="810.5" cy="180.4" r="2.7"/><circle cx="810.5" cy="191.4" r="2.7"/>
<rect x="932.8" y="80.1" width="5" height="5"/><rect x="932.3" y="117.1" width="5" height="5"/><rect x="940.2" y="117.1" width="5" height="5"/></g>
<text transform="translate(790.71,237.75) scale(1.0653,1)" font-size="14.24" fill="#262626" stroke="#262626">HA-Exo</text>
<text transform="translate(905.76,237.75) scale(1.0847,1)" font-size="14.24" fill="#262626" stroke="#262626">US-HA-Exo</text>
<text transform="translate(707.35,220.70) rotate(-90) scale(1.0894,1)" font-size="13.95" fill="#262626" stroke="#262626">Protein Concentration</text>
<text transform="translate(722.85,158.04) rotate(-90) scale(1.0781,1)" font-size="14.83" fill="#262626" stroke="#262626">(μg/μL)</text>
<rect x="561.5" y="71" width="61.5" height="169" fill="url(#gelbg)"/>
<g filter="url(#gb2)">
<rect x="565" y="73" width="17" height="95" fill="url(#lane1)"/>
<rect x="585.5" y="73" width="16.5" height="80" fill="url(#lane2)"/>
<rect x="606" y="73" width="16" height="40" fill="#cacaca"/>
</g>
<g filter="url(#gb)">
<rect x="565.2" y="79.9" width="16.5" height="2.6" rx="1.3" fill="#7e7e7e" opacity="1.00"/>
<rect x="565.2" y="104.7" width="16.5" height="2.6" rx="1.3" fill="#9a9a9a" opacity="1.00"/>
<rect x="565.0" y="113.5" width="17.0" height="4.6" rx="2.0" fill="#1c1c1c" opacity="1.00"/>
<rect x="565.8" y="121.0" width="15.5" height="5.0" rx="2.0" fill="#8e8e8e" opacity="1.00"/>
<rect x="585.6" y="79.9" width="16.0" height="2.6" rx="1.3" fill="#8e8e8e" opacity="1.00"/>
<rect x="585.6" y="104.7" width="16.0" height="2.6" rx="1.3" fill="#a6a6a6" opacity="1.00"/>
<rect x="585.4" y="113.5" width="16.5" height="4.6" rx="2.0" fill="#3a3a3a" opacity="1.00"/>
<rect x="586.1" y="121.0" width="15.0" height="5.0" rx="2.0" fill="#a2a2a2" opacity="1.00"/>
<rect x="595.0" y="228.9" width="7.0" height="2.2" rx="1.1" fill="#b4b4b4" opacity="1.00"/>
<rect x="606.5" y="83.5" width="15.0" height="2.2" rx="1.1" fill="#7c7c7c" opacity="1.00"/>
<rect x="606.5" y="88.9" width="15.0" height="2.2" rx="1.1" fill="#8a8a8a" opacity="1.00"/>
<rect x="606.5" y="100.5" width="15.0" height="3.0" rx="1.5" fill="#5a5a5a" opacity="1.00"/>
<rect x="606.5" y="113.0" width="15.0" height="3.0" rx="1.5" fill="#6a6a6a" opacity="1.00"/>
<rect x="606.5" y="133.4" width="15.0" height="3.2" rx="1.6" fill="#646464" opacity="1.00"/>
<rect x="606.5" y="154.2" width="15.0" height="2.8" rx="1.4" fill="#8e8e8e" opacity="1.00"/>
<rect x="606.5" y="178.0" width="15.0" height="2.8" rx="1.4" fill="#929292" opacity="1.00"/>
<rect x="606.5" y="199.8" width="15.0" height="2.8" rx="1.4" fill="#9c9c9c" opacity="1.00"/>
<rect x="606.5" y="228.0" width="15.0" height="4.0" rx="2.0" fill="#6a6a6a" opacity="1.00"/>
</g>
<rect x="624.5" y="72" width="27" height="166" fill="#d7dee3"/>
<g filter="url(#gb)">
<rect x="629.5" y="81.5" width="17.0" height="2.0" rx="1.0" fill="#b2c8da" opacity="1.00"/>
<rect x="629.5" y="88.5" width="17.0" height="2.0" rx="1.0" fill="#a9c2d7" opacity="1.00"/>
<rect x="629.5" y="99.6" width="17.0" height="2.4" rx="1.2" fill="#96bade" opacity="1.00"/>
<rect x="629.5" y="114.3" width="17.0" height="3.4" rx="1.7" fill="#e87048" opacity="1.00"/>
<rect x="629.5" y="133.8" width="17.0" height="2.4" rx="1.2" fill="#82acd8" opacity="1.00"/>
<rect x="629.5" y="154.4" width="17.0" height="2.4" rx="1.2" fill="#84acd8" opacity="1.00"/>
<rect x="629.5" y="178.2" width="17.0" height="2.4" rx="1.2" fill="#82aad8" opacity="1.00"/>
<rect x="629.5" y="199.5" width="17.0" height="2.6" rx="1.3" fill="#76a2d6" opacity="1.00"/>
<rect x="629.5" y="222.7" width="17.0" height="2.6" rx="1.3" fill="#5580c6" opacity="1.00"/>
<rect x="629.5" y="228.8" width="17.0" height="3.0" rx="1.5" fill="#a8cc58" opacity="1.00"/>
</g>
<text transform="translate(648.25,63.85) scale(1.0639,1)" font-size="13.95" fill="#262626" stroke="#262626">kDa</text>
<text transform="translate(656.12,83.35) scale(1.1529,1)" font-size="10.61" fill="#262626" stroke="#262626">180</text>
<text transform="translate(656.12,95.25) scale(1.0790,1)" font-size="11.34" fill="#262626" stroke="#262626">130</text>
<text transform="translate(656.12,105.75) scale(1.0653,1)" font-size="11.48" fill="#262626" stroke="#262626">100</text>
<text transform="translate(659.88,121.45) scale(1.3291,1)" font-size="11.34" fill="#262626" stroke="#262626">70</text>
<text transform="translate(660.05,138.95) scale(1.3184,1)" font-size="11.34" fill="#262626" stroke="#262626">55</text>
<text transform="translate(660.31,159.35) scale(1.3450,1)" font-size="10.90" fill="#262626" stroke="#262626">40</text>
<text transform="translate(660.08,182.65) scale(1.4061,1)" font-size="10.61" fill="#262626" stroke="#262626">35</text>
<text transform="translate(659.89,204.15) scale(1.3490,1)" font-size="11.19" fill="#262626" stroke="#262626">25</text>
<text transform="translate(659.47,223.55) scale(1.4210,1)" font-size="10.90" fill="#262626" stroke="#262626">15</text>
<text transform="translate(659.47,235.85) scale(1.3800,1)" font-size="11.19" fill="#262626" stroke="#262626">10</text>
<g stroke="#aaa" stroke-width="0.9">
<path d="M652.5 81.7H654.8"/>
<path d="M652.5 87.8H654.8"/>
<path d="M652.5 100.6H654.8"/>
<path d="M652.5 114.6H654.8"/>
<path d="M652.5 134.2H654.8"/>
<path d="M652.5 153.8H654.8"/>
<path d="M652.5 178.9H654.8"/>
<path d="M652.5 199.6H654.8"/>
<path d="M652.5 223.0H654.8"/>
<path d="M652.5 230.0H654.8"/>
</g>
<text transform="translate(574.50,72.00) rotate(-45) scale(0.960,1)" font-size="16.20" fill="#262626">US-HA-Exo</text>
<text transform="translate(598.00,71.50) rotate(-45) scale(0.940,1)" font-size="16.20" fill="#262626">HA-Exo</text>
<text transform="translate(617.00,70.00) rotate(-45) scale(0.930,1)" font-size="16.20" fill="#262626">Marker</text>
<text transform="translate(70.82,303.35) scale(1.0056,1)" font-size="14.97" fill="#262626" stroke="#262626">HA-Exo</text>
<text transform="translate(130.38,303.45) scale(1.0295,1)" font-size="14.68" fill="#262626" stroke="#262626">US-HA-Exo</text>
<rect x="61" y="308.8" width="139.6" height="45.2" fill="#cbcbcb"/>
<rect x="61" y="358.3" width="139.6" height="45.4" fill="#cbcbcb"/>
<rect x="61" y="409.4" width="139.6" height="52.8" fill="#cbcbcb"/>
<rect x="61" y="469.4" width="139.6" height="57.9" fill="#cbcbcb"/>
<g filter="url(#wb2)" opacity="0.5">
<ellipse cx="162.0" cy="334.0" rx="26.0" ry="6.0" fill="#888" opacity="1.00"/>
</g>
<g filter="url(#wb)">
<rect x="77" y="326" width="49" height="7.5" rx="3.5" fill="#7a7a7a"/>
<ellipse cx="84.0" cy="329.5" rx="4.5" ry="3.2" fill="#666" opacity="1.00"/>
<ellipse cx="95.0" cy="329.5" rx="4.5" ry="3.2" fill="#666" opacity="1.00"/>
<ellipse cx="106.0" cy="329.5" rx="4.5" ry="3.2" fill="#666" opacity="1.00"/>
<ellipse cx="117.0" cy="329.5" rx="4.5" ry="3.2" fill="#666" opacity="1.00"/>
<ellipse cx="152.0" cy="330.4" rx="16.0" ry="5.8" fill="#0a0a0a" opacity="1.00"/>
<rect x="136.5" y="325" width="53" height="10" rx="5" fill="#0c0c0c"/>
<path d="M98 377.5 Q112 379 123 379.8 L123 383.2 Q112 384 98 385.5Z" fill="#666"/>
<ellipse cx="89.0" cy="381.0" rx="17.0" ry="6.3" fill="#0a0a0a" opacity="1.00"/>
<rect x="137.5" y="374.3" width="40" height="9" rx="4.5" fill="#111"/>
<ellipse cx="176.0" cy="380.5" rx="13.5" ry="6.5" fill="#0a0a0a" opacity="1.00"/>
<ellipse cx="86.5" cy="433.0" rx="7.0" ry="4.8" fill="#5a5a5a" opacity="1.00"/>
<path d="M88 431 Q100 432 108 430 L108 440 Q100 437 88 435.5Z" fill="#8a8a8a"/>
<ellipse cx="114.0" cy="435.0" rx="12.0" ry="6.8" fill="#0e0e0e" opacity="1.00"/>
<rect x="139.5" y="426" width="50" height="16" rx="8" fill="#020202"/>
<rect x="81" y="487.3" width="43" height="3.4" rx="1.7" fill="#8c8c8c"/>
<rect x="143" y="487" width="40" height="3.8" rx="1.9" fill="#6a6a6a"/>
<ellipse cx="179.0" cy="489.0" rx="8.0" ry="3.2" fill="#222" opacity="1.00"/>
<rect x="80" y="498.5" width="46" height="7.5" rx="3.7" fill="#3a3a3a"/>
<ellipse cx="112.0" cy="502.5" rx="14.0" ry="4.8" fill="#111" opacity="1.00"/>
<rect x="142" y="497.8" width="45.5" height="9" rx="4.5" fill="#0e0e0e"/>
</g>
<text transform="translate(18.08,333.15) scale(1.0174,1)" font-size="14.97" fill="#262626" stroke="#262626">CD63</text>
<text transform="translate(12.90,389.35) scale(1.0178,1)" font-size="14.97" fill="#262626" stroke="#262626">Hsp70</text>
<text transform="translate(26.68,438.85) scale(1.0348,1)" font-size="14.68" fill="#262626" stroke="#262626">CD9</text>
<text transform="translate(1.88,503.85) scale(0.9646,1)" font-size="14.97" fill="#262626" stroke="#262626">TSG101</text>
<text transform="translate(203.80,333.15) scale(1.0025,1)" font-size="14.97" fill="#262626" stroke="#262626">26 kDa</text>
<text transform="translate(204.49,389.45) scale(0.9878,1)" font-size="14.97" fill="#262626" stroke="#262626">70 kDa</text>
<text transform="translate(204.20,438.85) scale(0.9939,1)" font-size="14.97" fill="#262626" stroke="#262626">25 kDa</text>
<text transform="translate(203.91,503.65) scale(0.9811,1)" font-size="15.26" fill="#262626" stroke="#262626">46 kDa</text>
<rect x="352.0" y="296.8" width="45.5" height="98.1" fill="url(#chk)" stroke="#111" stroke-width="2"/>
<rect x="445.7" y="354.2" width="45.0" height="40.7" fill="#fff" stroke="#111" stroke-width="2"/>
<g stroke="#111" stroke-width="1.9" fill="none">
<path d="M328.2 270.5V395.8"/>
<path d="M327.3 394.9H515.7"/>
<path d="M323.4 270.5H328.2"/>
<path d="M323.4 312.0H328.2"/>
<path d="M323.4 353.3H328.2"/>
<path d="M323.4 394.6H328.2"/>
<path d="M374.8 394.9V399.4 M468.5 394.9V399.4"/>
</g>
<text transform="translate(294.09,273.15) scale(1.0448,1)" font-size="13.95" fill="#262626" stroke="#262626">300</text>
<text transform="translate(293.91,314.65) scale(1.0529,1)" font-size="13.95" fill="#262626" stroke="#262626">200</text>
<text transform="translate(293.51,355.95) scale(1.0704,1)" font-size="13.95" fill="#262626" stroke="#262626">100</text>
<text transform="translate(310.17,397.25) scale(1.0644,1)" font-size="13.95" fill="#262626" stroke="#262626">0</text>
<text transform="translate(410.17,287.55) scale(1.0431,1)" font-size="14.68" fill="#262626" stroke="#262626">CD63</text>
<path d="M372.80 279.40L371.65 281.72L369.09 282.09L370.95 283.90L370.51 286.46L372.80 285.25L375.09 286.46L374.65 283.90L376.51 282.09L373.95 281.72Z" fill="#1e1e1e"/>
<path d="M380.40 279.40L379.25 281.72L376.69 282.09L378.55 283.90L378.11 286.46L380.40 285.25L382.69 286.46L382.25 283.90L384.11 282.09L381.55 281.72Z" fill="#1e1e1e"/>
<text transform="translate(353.08,412.75) scale(1.0762,1)" font-size="14.10" fill="#262626" stroke="#262626">US-HA-Exo</text>
<text transform="translate(449.20,412.55) scale(1.0196,1)" font-size="14.97" fill="#262626" stroke="#262626">HA-Exo</text>
<text transform="translate(274.15,401.00) rotate(-90) scale(1.0892,1)" font-size="13.95" fill="#262626" stroke="#262626">Expression level</text>
<text transform="translate(289.45,391.09) rotate(-90) scale(1.0817,1)" font-size="13.95" fill="#262626" stroke="#262626">(% HA-Exo)</text>
<rect x="352.4" y="447.4" width="45.2" height="102.6" fill="url(#chk)" stroke="#111" stroke-width="2"/>
<rect x="446.3" y="501.1" width="44.1" height="48.9" fill="#fff" stroke="#111" stroke-width="2"/>
<g stroke="#111" stroke-width="1.9" fill="none">
<path d="M328.2 424.8V550.9"/>
<path d="M327.3 550.0H515.7"/>
<path d="M323.4 424.8H328.2"/>
<path d="M323.4 449.8H328.2"/>
<path d="M323.4 474.9H328.2"/>
<path d="M323.4 500.0H328.2"/>
<path d="M323.4 525.0H328.2"/>
<path d="M323.4 550.0H328.2"/>
<path d="M374.8 550.0V554.5 M468.1 550.0V554.5"/>
</g>
<text transform="translate(296.40,427.45) scale(1.0665,1)" font-size="13.95" fill="#262626" stroke="#262626">250</text>
<text transform="translate(296.40,452.45) scale(1.0665,1)" font-size="13.95" fill="#262626" stroke="#262626">200</text>
<text transform="translate(296.00,477.55) scale(1.0843,1)" font-size="13.95" fill="#262626" stroke="#262626">150</text>
<text transform="translate(296.00,502.65) scale(1.0843,1)" font-size="13.95" fill="#262626" stroke="#262626">100</text>
<text transform="translate(304.86,527.65) scale(1.0543,1)" font-size="13.95" fill="#262626" stroke="#262626">50</text>
<text transform="translate(312.86,552.65) scale(1.0794,1)" font-size="13.95" fill="#262626" stroke="#262626">0</text>
<text transform="translate(412.77,435.55) scale(1.0420,1)" font-size="14.68" fill="#262626" stroke="#262626">CD9</text>
<path d="M369.60 431.30L368.45 433.62L365.89 433.99L367.75 435.80L367.31 438.36L369.60 437.15L371.89 438.36L371.45 435.80L373.31 433.99L370.75 433.62Z" fill="#1e1e1e"/>
<path d="M377.10 431.30L375.95 433.62L373.39 433.99L375.25 435.80L374.81 438.36L377.10 437.15L379.39 438.36L378.95 435.80L380.81 433.99L378.25 433.62Z" fill="#1e1e1e"/>
<text transform="translate(348.26,567.95) scale(1.0421,1)" font-size="14.83" fill="#262626" stroke="#262626">US-HA-Exo</text>
<text transform="translate(450.90,567.95) scale(1.0256,1)" font-size="14.83" fill="#262626" stroke="#262626">HA-Exo</text>
<text transform="translate(274.35,550.62) rotate(-90) scale(1.0757,1)" font-size="14.39" fill="#262626" stroke="#262626">Expression level</text>
<text transform="translate(289.25,536.90) rotate(-90) scale(1.0929,1)" font-size="13.95" fill="#262626" stroke="#262626">(% HA-Exo)</text>
<rect x="612.4" y="308.0" width="45.6" height="86.9" fill="url(#chk)" stroke="#111" stroke-width="2"/>
<rect x="706.4" y="333.9" width="44.1" height="61.0" fill="#fff" stroke="#111" stroke-width="2"/>
<g stroke="#111" stroke-width="1.9" fill="none">
<path d="M588.5 270.5V395.8"/>
<path d="M587.6 394.9H775.7"/>
<path d="M583.7 283.1H588.5"/>
<path d="M583.7 308.0H588.5"/>
<path d="M583.7 332.9H588.5"/>
<path d="M583.7 357.8H588.5"/>
<path d="M583.7 382.7H588.5"/>
<path d="M635.2 394.9V399.4 M728.3 394.9V399.4"/>
</g>
<text transform="translate(557.66,285.75) scale(1.0289,1)" font-size="13.95" fill="#262626" stroke="#262626">140</text>
<text transform="translate(557.66,310.65) scale(1.0289,1)" font-size="13.95" fill="#262626" stroke="#262626">120</text>
<text transform="translate(557.66,335.55) scale(1.0289,1)" font-size="13.95" fill="#262626" stroke="#262626">100</text>
<text transform="translate(565.63,360.45) scale(1.0300,1)" font-size="13.95" fill="#262626" stroke="#262626">80</text>
<text transform="translate(565.51,385.35) scale(1.0373,1)" font-size="13.95" fill="#262626" stroke="#262626">60</text>
<text transform="translate(665.17,279.55) scale(1.0840,1)" font-size="14.39" fill="#262626" stroke="#262626">Hsp70</text>
<path d="M634.50 288.30L633.35 290.62L630.79 290.99L632.65 292.80L632.21 295.36L634.50 294.15L636.79 295.36L636.35 292.80L638.21 290.99L635.65 290.62Z" fill="#1e1e1e"/>
<text transform="translate(611.07,412.95) scale(1.0722,1)" font-size="14.24" fill="#262626" stroke="#262626">US-HA-Exo</text>
<text transform="translate(712.29,412.95) scale(1.0780,1)" font-size="14.24" fill="#262626" stroke="#262626">HA-Exo</text>
<text transform="translate(540.55,400.79) rotate(-90) scale(1.0760,1)" font-size="14.10" fill="#262626" stroke="#262626">Expression level</text>
<text transform="translate(555.75,390.88) rotate(-90) scale(1.1019,1)" font-size="13.66" fill="#262626" stroke="#262626">(% HA-Exo)</text>
<rect x="614.3" y="470.3" width="46.0" height="79.7" fill="url(#chk)" stroke="#111" stroke-width="2"/>
<rect x="707.6" y="487.9" width="45.2" height="62.1" fill="#fff" stroke="#111" stroke-width="2"/>
<g stroke="#111" stroke-width="1.9" fill="none">
<path d="M590.4 425.0V550.9"/>
<path d="M589.5 550.0H777.5"/>
<path d="M585.6 437.7H590.4"/>
<path d="M585.6 462.6H590.4"/>
<path d="M585.6 487.5H590.4"/>
<path d="M585.6 512.4H590.4"/>
<path d="M585.6 537.3H590.4"/>
<path d="M636.6 550.0V554.5 M730.5 550.0V554.5"/>
</g>
<text transform="translate(559.86,440.35) scale(1.0289,1)" font-size="13.95" fill="#262626" stroke="#262626">140</text>
<text transform="translate(559.86,465.25) scale(1.0289,1)" font-size="13.95" fill="#262626" stroke="#262626">120</text>
<text transform="translate(559.86,490.15) scale(1.0289,1)" font-size="13.95" fill="#262626" stroke="#262626">100</text>
<text transform="translate(567.83,515.05) scale(1.0300,1)" font-size="13.95" fill="#262626" stroke="#262626">80</text>
<text transform="translate(567.71,539.95) scale(1.0373,1)" font-size="13.95" fill="#262626" stroke="#262626">60</text>
<text transform="translate(657.13,435.55) scale(1.0026,1)" font-size="14.39" fill="#262626" stroke="#262626">TSG101</text>
<path d="M638.10 452.40L636.95 454.72L634.39 455.09L636.25 456.90L635.81 459.46L638.10 458.25L640.39 459.46L639.95 456.90L641.81 455.09L639.25 454.72Z" fill="#1e1e1e"/>
<text transform="translate(609.87,567.95) scale(1.0860,1)" font-size="14.10" fill="#262626" stroke="#262626">US-HA-Exo</text>
<text transform="translate(710.69,567.95) scale(1.0891,1)" font-size="14.10" fill="#262626" stroke="#262626">HA-Exo</text>
<text transform="translate(540.55,550.11) rotate(-90) scale(1.0879,1)" font-size="14.10" fill="#262626" stroke="#262626">Expression level</text>
<text transform="translate(555.75,537.09) rotate(-90) scale(1.1133,1)" font-size="13.66" fill="#262626" stroke="#262626">(% HA-Exo)</text>
<g clip-path="url(#cg1)">
<rect x="800.5" y="270.5" width="195.5" height="136.5" fill="#323232"/>
<rect x="800.5" y="270.5" width="195.5" height="136.5" filter="url(#grain)" opacity="0.3"/>
<path d="M918.0 281.0L935.0 282.0L948.0 288.0L956.0 298.0L960.0 315.0L958.0 335.0L950.0 348.0L935.0 355.0L918.0 356.0L902.0 350.0L891.0 338.0L886.0 320.0L889.0 302.0L898.0 289.0Z" fill="#4c4c4c" filter="url(#tb)"/>
<path d="M918.0 281.0L935.0 282.0L948.0 288.0L956.0 298.0L960.0 315.0L958.0 335.0L950.0 348.0L935.0 355.0L918.0 356.0L902.0 350.0L891.0 338.0L886.0 320.0L889.0 302.0L898.0 289.0Z" fill="none" stroke="#6e6e6e" stroke-width="5" stroke-linejoin="round" filter="url(#tb2s)"/>
<g fill="none" filter="url(#tb)" stroke-linecap="round" stroke-linejoin="round">
<path d="M944 285L952 292L957 300" stroke="#8e8e8e" stroke-width="4"/>
<path d="M955 297L960 315L958 335" stroke="#b8b8b8" stroke-width="5.5"/>
<path d="M958 333L950 348L935 355" stroke="#cccccc" stroke-width="6.5"/>
<path d="M937 355L918 356L906 352" stroke="#bcbcbc" stroke-width="6"/>
<path d="M906 352L898 347" stroke="#8a8a8a" stroke-width="4.5"/>
</g>
</g>
<text transform="translate(805.19,400.05) scale(1.0439,1)" font-size="14.68" fill="#ececec" stroke="#ececec">HA-Exo</text>
<g clip-path="url(#cg2)">
<rect x="800.5" y="410.5" width="195.5" height="147" fill="#878787"/>
<g fill="#707070" filter="url(#tb2)" opacity="0.45">
<circle cx="832.3" cy="512.1" r="4.9"/>
<circle cx="893.9" cy="442.0" r="5.4"/>
<circle cx="958.3" cy="485.8" r="4.5"/>
<circle cx="846.3" cy="410.5" r="4.1"/>
<circle cx="914.7" cy="420.3" r="5.4"/>
<circle cx="845.5" cy="444.4" r="3.1"/>
<circle cx="995.5" cy="519.3" r="5.6"/>
<circle cx="920.7" cy="415.0" r="4.0"/>
<circle cx="897.5" cy="427.1" r="5.9"/>
<circle cx="872.2" cy="432.9" r="5.5"/>
<circle cx="824.5" cy="547.3" r="4.4"/>
<circle cx="908.2" cy="460.8" r="4.5"/>
<circle cx="836.6" cy="415.5" r="5.6"/>
<circle cx="846.0" cy="525.5" r="3.6"/>
<circle cx="989.9" cy="542.3" r="5.3"/>
<circle cx="949.5" cy="496.0" r="5.2"/>
<circle cx="824.0" cy="480.5" r="5.5"/>
<circle cx="839.4" cy="546.6" r="5.7"/>
<circle cx="880.3" cy="464.1" r="4.4"/>
<circle cx="875.6" cy="557.2" r="4.2"/>
<circle cx="805.3" cy="423.8" r="5.2"/>
<circle cx="994.6" cy="483.4" r="4.5"/>
<circle cx="907.9" cy="520.7" r="3.7"/>
<circle cx="919.3" cy="492.4" r="4.9"/>
<circle cx="835.4" cy="435.2" r="4.0"/>
<circle cx="981.7" cy="461.3" r="4.8"/>
<circle cx="860.1" cy="425.3" r="3.2"/>
<circle cx="959.5" cy="525.0" r="4.1"/>
<circle cx="933.9" cy="510.0" r="5.7"/>
<circle cx="987.8" cy="470.2" r="6.0"/>
<circle cx="988.4" cy="497.4" r="5.6"/>
<circle cx="896.2" cy="465.6" r="3.7"/>
<circle cx="971.7" cy="434.0" r="3.2"/>
<circle cx="957.8" cy="524.5" r="4.4"/>
<circle cx="964.1" cy="417.7" r="3.8"/>
<circle cx="856.8" cy="472.1" r="3.5"/>
<circle cx="813.6" cy="460.0" r="5.7"/>
<circle cx="992.8" cy="520.4" r="4.4"/>
<circle cx="849.4" cy="551.9" r="4.6"/>
<circle cx="942.8" cy="414.2" r="3.6"/>
<circle cx="964.3" cy="527.7" r="5.6"/>
<circle cx="917.9" cy="473.1" r="4.7"/>
<circle cx="966.5" cy="455.6" r="4.6"/>
<circle cx="854.1" cy="523.7" r="3.0"/>
<circle cx="934.3" cy="551.2" r="3.1"/>
</g>
<rect x="800.5" y="410.5" width="195.5" height="147" filter="url(#grain2)" opacity="0.7"/>
<g fill="#bcbcbc" filter="url(#tb)" opacity="0.85">
<circle cx="815.0" cy="410.0" r="2.7"/>
<circle cx="820.1" cy="413.3" r="1.8"/>
<circle cx="831.7" cy="414.2" r="2.5"/>
<circle cx="852.0" cy="415.5" r="2.6"/>
<circle cx="870.3" cy="414.0" r="2.2"/>
<circle cx="931.0" cy="410.7" r="2.7"/>
<circle cx="959.8" cy="415.5" r="2.2"/>
<circle cx="970.4" cy="410.6" r="2.0"/>
<circle cx="997.6" cy="416.0" r="1.9"/>
<circle cx="818.4" cy="419.9" r="2.5"/>
<circle cx="836.4" cy="424.8" r="2.3"/>
<circle cx="846.5" cy="425.5" r="1.8"/>
<circle cx="858.7" cy="421.6" r="2.0"/>
<circle cx="877.3" cy="420.2" r="1.8"/>
<circle cx="888.0" cy="424.4" r="2.5"/>
<circle cx="894.6" cy="424.0" r="2.0"/>
<circle cx="908.7" cy="422.0" r="2.7"/>
<circle cx="938.2" cy="420.6" r="2.8"/>
<circle cx="953.2" cy="421.9" r="2.8"/>
<circle cx="963.8" cy="420.4" r="1.9"/>
<circle cx="972.0" cy="422.9" r="1.9"/>
<circle cx="984.0" cy="423.8" r="2.2"/>
<circle cx="996.4" cy="420.6" r="2.6"/>
<circle cx="813.6" cy="429.7" r="2.0"/>
<circle cx="819.7" cy="430.3" r="2.4"/>
<circle cx="831.7" cy="430.2" r="2.7"/>
<circle cx="855.0" cy="434.5" r="2.3"/>
<circle cx="872.5" cy="432.5" r="2.5"/>
<circle cx="882.7" cy="429.8" r="2.3"/>
<circle cx="901.6" cy="431.4" r="2.0"/>
<circle cx="931.0" cy="432.9" r="2.2"/>
<circle cx="937.6" cy="430.3" r="2.0"/>
<circle cx="947.4" cy="431.3" r="2.3"/>
<circle cx="957.0" cy="433.9" r="2.6"/>
<circle cx="966.7" cy="434.9" r="2.8"/>
<circle cx="988.3" cy="430.6" r="2.0"/>
<circle cx="810.5" cy="444.7" r="2.5"/>
<circle cx="817.5" cy="441.9" r="2.4"/>
<circle cx="825.9" cy="440.3" r="2.0"/>
<circle cx="855.4" cy="443.9" r="2.0"/>
<circle cx="864.1" cy="440.5" r="2.6"/>
<circle cx="879.4" cy="443.5" r="2.7"/>
<circle cx="934.7" cy="440.1" r="2.3"/>
<circle cx="945.8" cy="442.2" r="2.0"/>
<circle cx="965.0" cy="439.9" r="2.5"/>
<circle cx="972.3" cy="442.6" r="2.2"/>
<circle cx="984.9" cy="443.4" r="2.5"/>
<circle cx="992.4" cy="442.1" r="1.8"/>
<circle cx="1004.2" cy="441.6" r="2.1"/>
<circle cx="814.1" cy="450.1" r="1.9"/>
<circle cx="844.1" cy="454.4" r="2.2"/>
<circle cx="862.9" cy="450.6" r="2.1"/>
<circle cx="870.9" cy="449.5" r="2.7"/>
<circle cx="949.0" cy="452.9" r="2.4"/>
<circle cx="967.7" cy="453.1" r="1.9"/>
<circle cx="977.2" cy="449.7" r="2.7"/>
<circle cx="987.5" cy="449.6" r="2.2"/>
<circle cx="1001.1" cy="454.4" r="2.5"/>
<circle cx="807.9" cy="458.4" r="2.2"/>
<circle cx="817.5" cy="461.8" r="2.4"/>
<circle cx="836.4" cy="463.3" r="2.8"/>
<circle cx="845.2" cy="461.2" r="2.3"/>
<circle cx="864.0" cy="463.1" r="2.0"/>
<circle cx="955.4" cy="463.1" r="2.7"/>
<circle cx="962.6" cy="460.3" r="2.2"/>
<circle cx="996.9" cy="461.1" r="2.4"/>
<circle cx="801.2" cy="468.0" r="2.1"/>
<circle cx="822.4" cy="468.3" r="2.0"/>
<circle cx="830.5" cy="471.4" r="2.2"/>
<circle cx="843.0" cy="469.5" r="2.4"/>
<circle cx="859.1" cy="467.7" r="2.5"/>
<circle cx="952.4" cy="467.8" r="2.1"/>
<circle cx="959.5" cy="469.3" r="2.3"/>
<circle cx="971.1" cy="468.2" r="2.6"/>
<circle cx="980.5" cy="468.9" r="2.3"/>
<circle cx="986.6" cy="473.3" r="2.8"/>
<circle cx="997.1" cy="471.5" r="2.4"/>
<circle cx="807.4" cy="477.3" r="2.2"/>
<circle cx="820.4" cy="483.0" r="2.8"/>
<circle cx="825.5" cy="477.4" r="1.8"/>
<circle cx="847.8" cy="479.5" r="2.8"/>
<circle cx="855.0" cy="482.5" r="2.5"/>
<circle cx="964.6" cy="480.7" r="1.9"/>
<circle cx="975.4" cy="481.4" r="2.7"/>
<circle cx="984.8" cy="477.3" r="2.5"/>
<circle cx="991.6" cy="483.0" r="2.6"/>
<circle cx="1001.9" cy="477.2" r="2.3"/>
<circle cx="802.7" cy="489.9" r="2.2"/>
<circle cx="814.4" cy="487.8" r="2.5"/>
<circle cx="821.5" cy="489.7" r="2.1"/>
<circle cx="833.6" cy="492.3" r="2.1"/>
<circle cx="844.0" cy="490.5" r="1.9"/>
<circle cx="851.5" cy="489.5" r="2.3"/>
<circle cx="859.1" cy="488.1" r="2.7"/>
<circle cx="961.0" cy="492.6" r="2.3"/>
<circle cx="969.8" cy="489.2" r="2.1"/>
<circle cx="977.9" cy="491.0" r="2.8"/>
<circle cx="999.6" cy="487.6" r="2.4"/>
<circle cx="809.8" cy="498.7" r="2.6"/>
<circle cx="815.5" cy="498.4" r="2.2"/>
<circle cx="836.5" cy="499.2" r="2.0"/>
<circle cx="846.8" cy="501.8" r="2.4"/>
<circle cx="864.1" cy="501.2" r="2.0"/>
<circle cx="955.8" cy="497.3" r="2.1"/>
<circle cx="963.9" cy="501.7" r="2.4"/>
<circle cx="975.4" cy="496.4" r="2.7"/>
<circle cx="985.8" cy="499.5" r="2.7"/>
<circle cx="992.8" cy="497.4" r="1.8"/>
<circle cx="802.4" cy="506.0" r="2.7"/>
<circle cx="814.1" cy="506.3" r="2.0"/>
<circle cx="824.4" cy="509.9" r="2.2"/>
<circle cx="835.3" cy="507.3" r="2.0"/>
<circle cx="854.0" cy="507.1" r="2.1"/>
<circle cx="861.0" cy="510.7" r="2.1"/>
<circle cx="961.2" cy="510.1" r="2.1"/>
<circle cx="971.0" cy="508.7" r="2.0"/>
<circle cx="982.4" cy="508.7" r="2.0"/>
<circle cx="988.9" cy="508.8" r="2.5"/>
<circle cx="998.0" cy="509.7" r="1.9"/>
<circle cx="809.8" cy="516.0" r="2.6"/>
<circle cx="815.4" cy="517.3" r="2.7"/>
<circle cx="830.3" cy="516.9" r="2.6"/>
<circle cx="869.3" cy="521.5" r="2.2"/>
<circle cx="985.8" cy="518.2" r="2.4"/>
<circle cx="995.5" cy="519.4" r="2.5"/>
<circle cx="801.1" cy="525.9" r="2.2"/>
<circle cx="812.1" cy="529.0" r="2.3"/>
<circle cx="823.7" cy="530.8" r="2.2"/>
<circle cx="831.7" cy="531.1" r="2.7"/>
<circle cx="839.9" cy="526.9" r="2.1"/>
<circle cx="851.8" cy="530.9" r="2.3"/>
<circle cx="860.7" cy="528.7" r="2.0"/>
<circle cx="869.0" cy="529.7" r="2.1"/>
<circle cx="879.6" cy="525.8" r="2.4"/>
<circle cx="942.3" cy="531.0" r="2.6"/>
<circle cx="951.0" cy="529.1" r="2.8"/>
<circle cx="971.3" cy="529.9" r="2.6"/>
<circle cx="977.8" cy="527.4" r="2.7"/>
<circle cx="986.2" cy="527.0" r="2.4"/>
<circle cx="819.7" cy="537.6" r="2.2"/>
<circle cx="829.6" cy="535.4" r="2.0"/>
<circle cx="837.4" cy="538.2" r="2.3"/>
<circle cx="848.4" cy="535.1" r="2.3"/>
<circle cx="857.6" cy="535.4" r="1.9"/>
<circle cx="864.0" cy="535.1" r="2.0"/>
<circle cx="877.6" cy="535.1" r="2.0"/>
<circle cx="886.9" cy="539.2" r="2.3"/>
<circle cx="904.3" cy="537.5" r="1.8"/>
<circle cx="913.9" cy="537.9" r="1.9"/>
<circle cx="937.3" cy="536.7" r="2.0"/>
<circle cx="955.5" cy="540.2" r="1.9"/>
<circle cx="1004.0" cy="540.4" r="2.3"/>
<circle cx="805.6" cy="549.6" r="1.9"/>
<circle cx="815.8" cy="546.4" r="2.0"/>
<circle cx="824.4" cy="547.9" r="2.3"/>
<circle cx="854.7" cy="545.0" r="2.6"/>
<circle cx="869.9" cy="549.7" r="2.6"/>
<circle cx="881.1" cy="544.6" r="2.8"/>
<circle cx="912.0" cy="548.5" r="2.4"/>
<circle cx="923.2" cy="548.5" r="2.8"/>
<circle cx="931.2" cy="549.1" r="2.6"/>
<circle cx="941.8" cy="547.4" r="2.0"/>
<circle cx="950.9" cy="548.8" r="1.9"/>
<circle cx="961.0" cy="548.3" r="2.0"/>
<circle cx="971.9" cy="548.8" r="1.9"/>
<circle cx="1000.8" cy="545.8" r="2.5"/>
<circle cx="806.1" cy="554.3" r="2.7"/>
<circle cx="819.5" cy="554.6" r="2.3"/>
<circle cx="824.7" cy="559.3" r="2.8"/>
<circle cx="839.8" cy="559.0" r="2.5"/>
<circle cx="859.8" cy="554.5" r="2.2"/>
<circle cx="865.2" cy="556.3" r="2.4"/>
<circle cx="874.2" cy="558.9" r="2.6"/>
<circle cx="886.3" cy="559.2" r="2.2"/>
<circle cx="899.0" cy="559.9" r="2.3"/>
<circle cx="906.5" cy="558.1" r="2.7"/>
<circle cx="915.2" cy="560.0" r="2.7"/>
<circle cx="935.8" cy="557.4" r="2.2"/>
<circle cx="943.7" cy="554.6" r="2.3"/>
<circle cx="954.5" cy="559.1" r="2.6"/>
<circle cx="966.2" cy="557.0" r="2.0"/>
<circle cx="975.6" cy="559.2" r="2.6"/>
<circle cx="987.1" cy="557.5" r="2.8"/>
<circle cx="995.1" cy="554.4" r="2.4"/>
<circle cx="1006.0" cy="556.4" r="2.4"/>
</g>
<path d="M877.4 450.3L892.7 439.1L912.1 438.1L928.4 440.1L940.6 448.3L946.8 461.6L948.8 479.9L947.8 500.3L941.7 516.6L928.4 526.8L910.0 529.9L892.7 527.9L878.4 518.7L869.2 500.3L867.2 479.9L869.2 464.6Z" fill="none" stroke="#4a4a4a" stroke-width="5" opacity="0.8" filter="url(#tb)"/>
<path d="M879.5 452.6L893.8 442.2L911.8 441.2L927.0 443.1L938.4 450.8L944.1 463.1L946.0 480.2L945.0 499.2L939.4 514.4L927.0 523.9L909.9 526.8L893.8 524.9L880.5 516.3L871.9 499.2L870.0 480.2L871.9 465.9Z" fill="#6c6c6c" filter="url(#tb1)"/>
<rect x="800.5" y="410.5" width="195.5" height="147" filter="url(#grain2)" opacity="0.5" clip-path="url(#cring)"/>
<g fill="#989898" filter="url(#tb)" opacity="0.9">
<circle cx="908.3" cy="447.0" r="2.2"/>
<circle cx="889.8" cy="454.6" r="1.9"/>
<circle cx="902.2" cy="454.5" r="2.3"/>
<circle cx="910.4" cy="453.2" r="2.0"/>
<circle cx="922.9" cy="455.2" r="2.3"/>
<circle cx="885.1" cy="465.2" r="1.9"/>
<circle cx="895.8" cy="464.8" r="2.1"/>
<circle cx="905.0" cy="464.6" r="2.5"/>
<circle cx="916.3" cy="465.8" r="2.6"/>
<circle cx="926.2" cy="467.3" r="2.4"/>
<circle cx="936.5" cy="465.5" r="2.6"/>
<circle cx="883.5" cy="472.5" r="2.1"/>
<circle cx="894.4" cy="472.7" r="2.1"/>
<circle cx="900.7" cy="475.1" r="2.5"/>
<circle cx="910.3" cy="474.8" r="1.8"/>
<circle cx="919.4" cy="474.1" r="2.3"/>
<circle cx="932.1" cy="476.4" r="2.2"/>
<circle cx="938.5" cy="476.1" r="2.5"/>
<circle cx="878.7" cy="483.5" r="2.3"/>
<circle cx="886.8" cy="485.0" r="2.5"/>
<circle cx="896.0" cy="485.2" r="1.9"/>
<circle cx="904.4" cy="482.4" r="2.0"/>
<circle cx="915.7" cy="483.4" r="2.5"/>
<circle cx="923.3" cy="485.8" r="2.0"/>
<circle cx="934.0" cy="483.8" r="2.2"/>
<circle cx="883.2" cy="491.2" r="1.9"/>
<circle cx="891.1" cy="493.6" r="2.4"/>
<circle cx="899.4" cy="491.2" r="2.1"/>
<circle cx="909.8" cy="494.6" r="2.5"/>
<circle cx="922.7" cy="495.9" r="2.6"/>
<circle cx="928.9" cy="493.8" r="1.9"/>
<circle cx="889.5" cy="504.5" r="1.9"/>
<circle cx="896.5" cy="504.4" r="1.8"/>
<circle cx="908.1" cy="505.0" r="2.3"/>
<circle cx="914.1" cy="503.3" r="1.9"/>
<circle cx="927.4" cy="501.7" r="1.8"/>
<circle cx="934.8" cy="501.7" r="2.5"/>
<circle cx="892.4" cy="514.8" r="2.1"/>
<circle cx="903.6" cy="510.7" r="2.2"/>
<circle cx="913.2" cy="514.2" r="2.3"/>
<circle cx="918.6" cy="515.0" r="2.1"/>
<circle cx="931.0" cy="510.5" r="1.9"/>
</g>
<path d="M879.5 452.6L893.8 442.2L911.8 441.2L927.0 443.1L938.4 450.8L944.1 463.1L946.0 480.2L945.0 499.2L939.4 514.4L927.0 523.9L909.9 526.8L893.8 524.9L880.5 516.3L871.9 499.2L870.0 480.2L871.9 465.9Z" fill="none" stroke="#d9d9d9" stroke-width="6" stroke-linejoin="round" filter="url(#ringf)"/>
<path d="M966.5 548.8H991.4" stroke="#222" stroke-width="1.5"/>
<text x="970" y="555" font-size="4" fill="#444">100 nm</text>
</g>
<text transform="translate(804.97,551.75) scale(1.0736,1)" font-size="14.24" fill="#383838" stroke="#383838">US-HA-Exo</text>
</svg></body></html>
